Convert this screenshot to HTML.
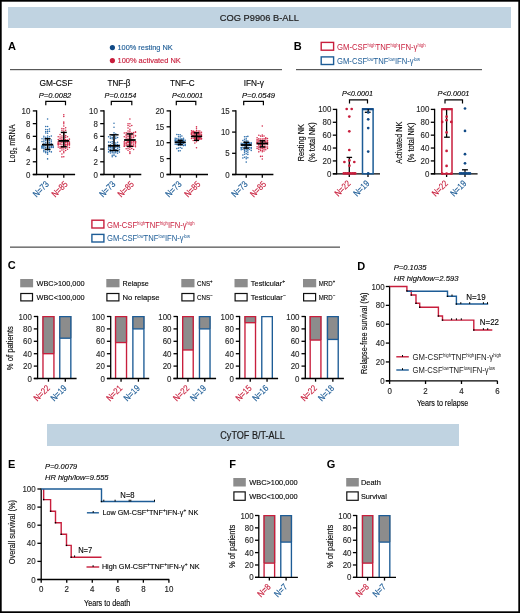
<!DOCTYPE html>
<html><head><meta charset="utf-8"><style>
html,body{margin:0;padding:0;background:#fff;}
svg{display:block;font-family:"Liberation Sans", sans-serif;will-change:transform;}
</style></head><body>
<svg width="520" height="613" viewBox="0 0 520 613">
<rect x="0" y="0" width="520" height="613" fill="#fff" stroke="#000" stroke-width="3.4"/>
<rect x="8" y="7" width="503" height="21" fill="#c0d3e1"/>
<text x="259.3" y="20.9" font-size="9.6" text-anchor="middle" fill="#1e1e1e" textLength="79" lengthAdjust="spacingAndGlyphs" stroke="#1e1e1e" stroke-width="0.2">COG P9906 B-ALL</text>
<rect x="47" y="424" width="412" height="22" fill="#c0d3e1"/>
<text x="252.5" y="438.7" font-size="10" text-anchor="middle" fill="#1e1e1e" textLength="64.4" lengthAdjust="spacingAndGlyphs" stroke="#1e1e1e" stroke-width="0.2">CyTOF B/T-ALL</text>
<rect x="10" y="69" width="272" height="1.2" fill="#585858"/>
<rect x="296" y="69" width="186" height="1.2" fill="#585858"/>
<rect x="10" y="246.5" width="330" height="1.3" fill="#585858"/>
<text x="8" y="49.6" font-size="11" fill="#000" font-weight="bold">A</text>
<text x="293.7" y="50" font-size="11" fill="#000" font-weight="bold">B</text>
<text x="7.7" y="269.4" font-size="11" fill="#000" font-weight="bold">C</text>
<text x="357.3" y="270" font-size="11" fill="#000" font-weight="bold">D</text>
<text x="8.1" y="468" font-size="11" fill="#000" font-weight="bold">E</text>
<text x="229.3" y="468" font-size="11" fill="#000" font-weight="bold">F</text>
<text x="326.8" y="468" font-size="11" fill="#000" font-weight="bold">G</text>
<circle cx="112.4" cy="47.6" r="2.6" fill="#114a86"/>
<text x="117.5" y="50.4" font-size="8" fill="#1d5c96" textLength="55.2" lengthAdjust="spacingAndGlyphs" stroke="#1d5c96" stroke-width="0.14">100% resting NK</text>
<circle cx="112.4" cy="60.6" r="2.6" fill="#c81e3c"/>
<text x="117.5" y="63.4" font-size="8" fill="#c81e3c" textLength="63.3" lengthAdjust="spacingAndGlyphs" stroke="#c81e3c" stroke-width="0.14">100% activated NK</text>
<line x1="36.6" y1="110.3" x2="36.6" y2="175.1" stroke="#000" stroke-width="1.3"/>
<line x1="32.8" y1="174.5" x2="36.6" y2="174.5" stroke="#000" stroke-width="1.3"/>
<text x="30.4" y="177.59" font-size="8.7" text-anchor="end" fill="#2a2a2a" textLength="4.4" lengthAdjust="spacingAndGlyphs" stroke="#2a2a2a" stroke-width="0.14">0</text>
<line x1="32.8" y1="161.78" x2="36.6" y2="161.78" stroke="#000" stroke-width="1.3"/>
<text x="30.4" y="164.87" font-size="8.7" text-anchor="end" fill="#2a2a2a" textLength="4.4" lengthAdjust="spacingAndGlyphs" stroke="#2a2a2a" stroke-width="0.14">2</text>
<line x1="32.8" y1="149.06" x2="36.6" y2="149.06" stroke="#000" stroke-width="1.3"/>
<text x="30.4" y="152.15" font-size="8.7" text-anchor="end" fill="#2a2a2a" textLength="4.4" lengthAdjust="spacingAndGlyphs" stroke="#2a2a2a" stroke-width="0.14">4</text>
<line x1="32.8" y1="136.34" x2="36.6" y2="136.34" stroke="#000" stroke-width="1.3"/>
<text x="30.4" y="139.43" font-size="8.7" text-anchor="end" fill="#2a2a2a" textLength="4.4" lengthAdjust="spacingAndGlyphs" stroke="#2a2a2a" stroke-width="0.14">6</text>
<line x1="32.8" y1="123.62" x2="36.6" y2="123.62" stroke="#000" stroke-width="1.3"/>
<text x="30.4" y="126.71" font-size="8.7" text-anchor="end" fill="#2a2a2a" textLength="4.4" lengthAdjust="spacingAndGlyphs" stroke="#2a2a2a" stroke-width="0.14">8</text>
<line x1="32.8" y1="110.9" x2="36.6" y2="110.9" stroke="#000" stroke-width="1.3"/>
<text x="30.4" y="113.99" font-size="8.7" text-anchor="end" fill="#2a2a2a" textLength="8.8" lengthAdjust="spacingAndGlyphs" stroke="#2a2a2a" stroke-width="0.14">10</text>
<line x1="32.8" y1="174.5" x2="75.1" y2="174.5" stroke="#000" stroke-width="1.3"/>
<line x1="47.6" y1="174.5" x2="47.6" y2="177.7" stroke="#000" stroke-width="1.3"/>
<line x1="63.8" y1="174.5" x2="63.8" y2="177.7" stroke="#000" stroke-width="1.3"/>
<text x="56" y="85.6" font-size="9.2" text-anchor="middle" textLength="33" lengthAdjust="spacingAndGlyphs" stroke="#1a1a1a" stroke-width="0.14">GM-CSF</text>
<text x="55.05" y="97.5" font-size="7.6" text-anchor="middle" textLength="32.5" lengthAdjust="spacingAndGlyphs" font-style="italic" stroke="#1a1a1a" stroke-width="0.14">P=0.0082</text>
<path d="M45.8 105.2 V101.4 H65.5 V105.2" stroke="#000" stroke-width="1.2" fill="none"/>
<circle cx="47.6" cy="144.97" r="0.78" fill="#2f6fab"/>
<circle cx="45.73" cy="144.29" r="0.78" fill="#2f6fab"/>
<circle cx="49.47" cy="144.14" r="0.78" fill="#2f6fab"/>
<circle cx="43.87" cy="145.36" r="0.78" fill="#2f6fab"/>
<circle cx="43.87" cy="143.74" r="0.78" fill="#2f6fab"/>
<circle cx="51.33" cy="143.74" r="0.78" fill="#2f6fab"/>
<circle cx="45.73" cy="145.72" r="0.78" fill="#2f6fab"/>
<circle cx="49.47" cy="146.02" r="0.78" fill="#2f6fab"/>
<circle cx="51.33" cy="146.05" r="0.78" fill="#2f6fab"/>
<circle cx="42" cy="146.07" r="0.78" fill="#2f6fab"/>
<circle cx="53.2" cy="146.07" r="0.78" fill="#2f6fab"/>
<circle cx="47.6" cy="146.38" r="0.78" fill="#2f6fab"/>
<circle cx="42" cy="146.4" r="0.78" fill="#2f6fab"/>
<circle cx="47.6" cy="142.78" r="0.78" fill="#2f6fab"/>
<circle cx="51.33" cy="146.69" r="0.78" fill="#2f6fab"/>
<circle cx="45.73" cy="142.67" r="0.78" fill="#2f6fab"/>
<circle cx="43.87" cy="146.87" r="0.78" fill="#2f6fab"/>
<circle cx="42" cy="146.87" r="0.78" fill="#2f6fab"/>
<circle cx="49.47" cy="142.4" r="0.78" fill="#2f6fab"/>
<circle cx="53.2" cy="147.03" r="0.78" fill="#2f6fab"/>
<circle cx="43.87" cy="147.05" r="0.78" fill="#2f6fab"/>
<circle cx="45.73" cy="147.44" r="0.78" fill="#2f6fab"/>
<circle cx="49.47" cy="147.44" r="0.78" fill="#2f6fab"/>
<circle cx="51.33" cy="147.49" r="0.78" fill="#2f6fab"/>
<circle cx="42" cy="147.51" r="0.78" fill="#2f6fab"/>
<circle cx="43.87" cy="141.86" r="0.78" fill="#2f6fab"/>
<circle cx="53.2" cy="147.57" r="0.78" fill="#2f6fab"/>
<circle cx="51.33" cy="141.81" r="0.78" fill="#2f6fab"/>
<circle cx="47.6" cy="147.76" r="0.78" fill="#2f6fab"/>
<circle cx="42" cy="141.6" r="0.78" fill="#2f6fab"/>
<circle cx="49.47" cy="148.08" r="0.78" fill="#2f6fab"/>
<circle cx="42" cy="148.18" r="0.78" fill="#2f6fab"/>
<circle cx="43.87" cy="148.38" r="0.78" fill="#2f6fab"/>
<circle cx="47.6" cy="140.67" r="0.78" fill="#2f6fab"/>
<circle cx="45.73" cy="140.63" r="0.78" fill="#2f6fab"/>
<circle cx="49.47" cy="140.49" r="0.78" fill="#2f6fab"/>
<circle cx="47.6" cy="149.25" r="0.78" fill="#2f6fab"/>
<circle cx="43.87" cy="140.01" r="0.78" fill="#2f6fab"/>
<circle cx="45.73" cy="149.4" r="0.78" fill="#2f6fab"/>
<circle cx="51.33" cy="139.92" r="0.78" fill="#2f6fab"/>
<circle cx="49.47" cy="149.9" r="0.78" fill="#2f6fab"/>
<circle cx="47.6" cy="139.19" r="0.78" fill="#2f6fab"/>
<circle cx="45.73" cy="139.12" r="0.78" fill="#2f6fab"/>
<circle cx="43.87" cy="150.4" r="0.78" fill="#2f6fab"/>
<circle cx="49.47" cy="138.92" r="0.78" fill="#2f6fab"/>
<circle cx="42" cy="138.75" r="0.78" fill="#2f6fab"/>
<circle cx="47.6" cy="150.82" r="0.78" fill="#2f6fab"/>
<circle cx="45.73" cy="151.28" r="0.78" fill="#2f6fab"/>
<circle cx="43.87" cy="138.04" r="0.78" fill="#2f6fab"/>
<circle cx="49.47" cy="151.42" r="0.78" fill="#2f6fab"/>
<circle cx="43.87" cy="151.79" r="0.78" fill="#2f6fab"/>
<circle cx="51.33" cy="151.88" r="0.78" fill="#2f6fab"/>
<circle cx="47.6" cy="137.43" r="0.78" fill="#2f6fab"/>
<circle cx="45.73" cy="137.34" r="0.78" fill="#2f6fab"/>
<circle cx="47.6" cy="152.62" r="0.78" fill="#2f6fab"/>
<circle cx="45.73" cy="152.64" r="0.78" fill="#2f6fab"/>
<circle cx="49.47" cy="136.69" r="0.78" fill="#2f6fab"/>
<circle cx="43.87" cy="136.33" r="0.78" fill="#2f6fab"/>
<circle cx="51.33" cy="136.09" r="0.78" fill="#2f6fab"/>
<circle cx="47.6" cy="135.99" r="0.78" fill="#2f6fab"/>
<circle cx="47.6" cy="154.15" r="0.78" fill="#2f6fab"/>
<circle cx="47.6" cy="133.32" r="0.78" fill="#2f6fab"/>
<circle cx="45.73" cy="133.01" r="0.78" fill="#2f6fab"/>
<circle cx="47.6" cy="131.58" r="0.78" fill="#2f6fab"/>
<circle cx="45.73" cy="131.52" r="0.78" fill="#2f6fab"/>
<circle cx="49.47" cy="131.29" r="0.78" fill="#2f6fab"/>
<circle cx="47.6" cy="158.9" r="0.78" fill="#2f6fab"/>
<circle cx="47.6" cy="129.71" r="0.78" fill="#2f6fab"/>
<circle cx="45.73" cy="129.48" r="0.78" fill="#2f6fab"/>
<circle cx="49.47" cy="129.01" r="0.78" fill="#2f6fab"/>
<circle cx="47.6" cy="126.57" r="0.78" fill="#2f6fab"/>
<circle cx="45.73" cy="126.41" r="0.78" fill="#2f6fab"/>
<circle cx="47.6" cy="119" r="0.78" fill="#2f6fab"/>
<line x1="47.6" y1="138.7" x2="47.6" y2="149.4" stroke="#000" stroke-width="1.4"/>
<line x1="44.7" y1="138.7" x2="50.5" y2="138.7" stroke="#000" stroke-width="1.4"/>
<line x1="44.7" y1="149.4" x2="50.5" y2="149.4" stroke="#000" stroke-width="1.4"/>
<line x1="42" y1="144.7" x2="53.2" y2="144.7" stroke="#000" stroke-width="1.8"/>
<circle cx="63.8" cy="140.91" r="0.78" fill="#d42c4c"/>
<circle cx="61.93" cy="140.78" r="0.78" fill="#d42c4c"/>
<circle cx="65.67" cy="141.07" r="0.78" fill="#d42c4c"/>
<circle cx="60.07" cy="140.3" r="0.78" fill="#d42c4c"/>
<circle cx="60.07" cy="141.68" r="0.78" fill="#d42c4c"/>
<circle cx="67.53" cy="141.83" r="0.78" fill="#d42c4c"/>
<circle cx="67.53" cy="139.96" r="0.78" fill="#d42c4c"/>
<circle cx="58.2" cy="141.89" r="0.78" fill="#d42c4c"/>
<circle cx="69.4" cy="141.92" r="0.78" fill="#d42c4c"/>
<circle cx="65.67" cy="139.62" r="0.78" fill="#d42c4c"/>
<circle cx="63.8" cy="139.48" r="0.78" fill="#d42c4c"/>
<circle cx="58.2" cy="139.47" r="0.78" fill="#d42c4c"/>
<circle cx="63.8" cy="142.45" r="0.78" fill="#d42c4c"/>
<circle cx="61.93" cy="142.49" r="0.78" fill="#d42c4c"/>
<circle cx="65.67" cy="142.5" r="0.78" fill="#d42c4c"/>
<circle cx="61.93" cy="139.23" r="0.78" fill="#d42c4c"/>
<circle cx="69.4" cy="139.15" r="0.78" fill="#d42c4c"/>
<circle cx="67.53" cy="142.7" r="0.78" fill="#d42c4c"/>
<circle cx="65.67" cy="142.73" r="0.78" fill="#d42c4c"/>
<circle cx="58.2" cy="143.01" r="0.78" fill="#d42c4c"/>
<circle cx="69.4" cy="143.01" r="0.78" fill="#d42c4c"/>
<circle cx="60.07" cy="138.76" r="0.78" fill="#d42c4c"/>
<circle cx="60.07" cy="143.14" r="0.78" fill="#d42c4c"/>
<circle cx="67.53" cy="143.21" r="0.78" fill="#d42c4c"/>
<circle cx="58.2" cy="143.41" r="0.78" fill="#d42c4c"/>
<circle cx="69.4" cy="143.49" r="0.78" fill="#d42c4c"/>
<circle cx="63.8" cy="143.72" r="0.78" fill="#d42c4c"/>
<circle cx="63.8" cy="138.07" r="0.78" fill="#d42c4c"/>
<circle cx="61.93" cy="137.7" r="0.78" fill="#d42c4c"/>
<circle cx="63.8" cy="144.27" r="0.78" fill="#d42c4c"/>
<circle cx="61.93" cy="144.34" r="0.78" fill="#d42c4c"/>
<circle cx="65.67" cy="137.36" r="0.78" fill="#d42c4c"/>
<circle cx="65.67" cy="144.46" r="0.78" fill="#d42c4c"/>
<circle cx="58.2" cy="144.49" r="0.78" fill="#d42c4c"/>
<circle cx="60.07" cy="144.58" r="0.78" fill="#d42c4c"/>
<circle cx="67.53" cy="144.62" r="0.78" fill="#d42c4c"/>
<circle cx="69.4" cy="144.64" r="0.78" fill="#d42c4c"/>
<circle cx="65.67" cy="144.66" r="0.78" fill="#d42c4c"/>
<circle cx="60.07" cy="136.96" r="0.78" fill="#d42c4c"/>
<circle cx="58.2" cy="144.92" r="0.78" fill="#d42c4c"/>
<circle cx="67.53" cy="136.84" r="0.78" fill="#d42c4c"/>
<circle cx="58.2" cy="136.8" r="0.78" fill="#d42c4c"/>
<circle cx="69.4" cy="145" r="0.78" fill="#d42c4c"/>
<circle cx="67.53" cy="145.12" r="0.78" fill="#d42c4c"/>
<circle cx="63.8" cy="136.67" r="0.78" fill="#d42c4c"/>
<circle cx="65.67" cy="145.16" r="0.78" fill="#d42c4c"/>
<circle cx="61.93" cy="135.94" r="0.78" fill="#d42c4c"/>
<circle cx="63.8" cy="145.87" r="0.78" fill="#d42c4c"/>
<circle cx="65.67" cy="135.63" r="0.78" fill="#d42c4c"/>
<circle cx="61.93" cy="146.37" r="0.78" fill="#d42c4c"/>
<circle cx="65.67" cy="146.48" r="0.78" fill="#d42c4c"/>
<circle cx="60.07" cy="146.9" r="0.78" fill="#d42c4c"/>
<circle cx="63.8" cy="134.88" r="0.78" fill="#d42c4c"/>
<circle cx="67.53" cy="147.05" r="0.78" fill="#d42c4c"/>
<circle cx="58.2" cy="147.11" r="0.78" fill="#d42c4c"/>
<circle cx="60.07" cy="134.62" r="0.78" fill="#d42c4c"/>
<circle cx="63.8" cy="147.25" r="0.78" fill="#d42c4c"/>
<circle cx="69.4" cy="147.53" r="0.78" fill="#d42c4c"/>
<circle cx="61.93" cy="147.67" r="0.78" fill="#d42c4c"/>
<circle cx="61.93" cy="148.06" r="0.78" fill="#d42c4c"/>
<circle cx="65.67" cy="148.24" r="0.78" fill="#d42c4c"/>
<circle cx="60.07" cy="148.35" r="0.78" fill="#d42c4c"/>
<circle cx="63.8" cy="133.42" r="0.78" fill="#d42c4c"/>
<circle cx="63.8" cy="149.09" r="0.78" fill="#d42c4c"/>
<circle cx="67.53" cy="149.23" r="0.78" fill="#d42c4c"/>
<circle cx="61.93" cy="132.54" r="0.78" fill="#d42c4c"/>
<circle cx="61.93" cy="150.03" r="0.78" fill="#d42c4c"/>
<circle cx="65.67" cy="150.43" r="0.78" fill="#d42c4c"/>
<circle cx="63.8" cy="131.14" r="0.78" fill="#d42c4c"/>
<circle cx="63.8" cy="151.26" r="0.78" fill="#d42c4c"/>
<circle cx="60.07" cy="151.37" r="0.78" fill="#d42c4c"/>
<circle cx="61.93" cy="130.26" r="0.78" fill="#d42c4c"/>
<circle cx="65.67" cy="130.22" r="0.78" fill="#d42c4c"/>
<circle cx="63.8" cy="152.84" r="0.78" fill="#d42c4c"/>
<circle cx="63.8" cy="128.85" r="0.78" fill="#d42c4c"/>
<circle cx="61.93" cy="128.44" r="0.78" fill="#d42c4c"/>
<circle cx="61.93" cy="153.97" r="0.78" fill="#d42c4c"/>
<circle cx="65.67" cy="127.79" r="0.78" fill="#d42c4c"/>
<circle cx="63.8" cy="126" r="0.78" fill="#d42c4c"/>
<circle cx="63.8" cy="156.7" r="0.78" fill="#d42c4c"/>
<circle cx="61.93" cy="156.9" r="0.78" fill="#d42c4c"/>
<circle cx="63.8" cy="123.69" r="0.78" fill="#d42c4c"/>
<circle cx="63.8" cy="122.15" r="0.78" fill="#d42c4c"/>
<circle cx="63.8" cy="116.54" r="0.78" fill="#d42c4c"/>
<circle cx="63.8" cy="114.7" r="0.78" fill="#d42c4c"/>
<line x1="63.8" y1="132.4" x2="63.8" y2="146.8" stroke="#000" stroke-width="1.4"/>
<line x1="60.8" y1="132.4" x2="66.8" y2="132.4" stroke="#000" stroke-width="1.4"/>
<line x1="60.8" y1="146.8" x2="66.8" y2="146.8" stroke="#000" stroke-width="1.4"/>
<line x1="58.4" y1="140.9" x2="69.2" y2="140.9" stroke="#000" stroke-width="1.8"/>
<text transform="translate(49.6 184.7) rotate(-45)" font-size="9" text-anchor="end" fill="#1d5c96" textLength="18.5" lengthAdjust="spacingAndGlyphs" stroke="#1d5c96" stroke-width="0.15">N=73</text>
<text transform="translate(68.3 184.7) rotate(-45)" font-size="9" text-anchor="end" fill="#c81e3c" textLength="18.5" lengthAdjust="spacingAndGlyphs" stroke="#c81e3c" stroke-width="0.15">N=85</text>
<line x1="104" y1="110.3" x2="104" y2="175.1" stroke="#000" stroke-width="1.3"/>
<line x1="100.2" y1="174.5" x2="104" y2="174.5" stroke="#000" stroke-width="1.3"/>
<text x="97.8" y="177.59" font-size="8.7" text-anchor="end" fill="#2a2a2a" textLength="4.4" lengthAdjust="spacingAndGlyphs" stroke="#2a2a2a" stroke-width="0.14">0</text>
<line x1="100.2" y1="161.78" x2="104" y2="161.78" stroke="#000" stroke-width="1.3"/>
<text x="97.8" y="164.87" font-size="8.7" text-anchor="end" fill="#2a2a2a" textLength="4.4" lengthAdjust="spacingAndGlyphs" stroke="#2a2a2a" stroke-width="0.14">2</text>
<line x1="100.2" y1="149.06" x2="104" y2="149.06" stroke="#000" stroke-width="1.3"/>
<text x="97.8" y="152.15" font-size="8.7" text-anchor="end" fill="#2a2a2a" textLength="4.4" lengthAdjust="spacingAndGlyphs" stroke="#2a2a2a" stroke-width="0.14">4</text>
<line x1="100.2" y1="136.34" x2="104" y2="136.34" stroke="#000" stroke-width="1.3"/>
<text x="97.8" y="139.43" font-size="8.7" text-anchor="end" fill="#2a2a2a" textLength="4.4" lengthAdjust="spacingAndGlyphs" stroke="#2a2a2a" stroke-width="0.14">6</text>
<line x1="100.2" y1="123.62" x2="104" y2="123.62" stroke="#000" stroke-width="1.3"/>
<text x="97.8" y="126.71" font-size="8.7" text-anchor="end" fill="#2a2a2a" textLength="4.4" lengthAdjust="spacingAndGlyphs" stroke="#2a2a2a" stroke-width="0.14">8</text>
<line x1="100.2" y1="110.9" x2="104" y2="110.9" stroke="#000" stroke-width="1.3"/>
<text x="97.8" y="113.99" font-size="8.7" text-anchor="end" fill="#2a2a2a" textLength="8.8" lengthAdjust="spacingAndGlyphs" stroke="#2a2a2a" stroke-width="0.14">10</text>
<line x1="100.2" y1="174.5" x2="141.3" y2="174.5" stroke="#000" stroke-width="1.3"/>
<line x1="114" y1="174.5" x2="114" y2="177.7" stroke="#000" stroke-width="1.3"/>
<line x1="129.9" y1="174.5" x2="129.9" y2="177.7" stroke="#000" stroke-width="1.3"/>
<text x="119" y="85.6" font-size="9.2" text-anchor="middle" textLength="23" lengthAdjust="spacingAndGlyphs" stroke="#1a1a1a" stroke-width="0.14">TNF-β</text>
<text x="120.4" y="97.5" font-size="7.6" text-anchor="middle" textLength="31.8" lengthAdjust="spacingAndGlyphs" font-style="italic" stroke="#1a1a1a" stroke-width="0.14">P=0.0154</text>
<path d="M111.3 105.2 V101.4 H131.8 V105.2" stroke="#000" stroke-width="1.2" fill="none"/>
<circle cx="114" cy="145.79" r="0.78" fill="#2f6fab"/>
<circle cx="112.2" cy="145.66" r="0.78" fill="#2f6fab"/>
<circle cx="115.8" cy="145.94" r="0.78" fill="#2f6fab"/>
<circle cx="110.4" cy="146.22" r="0.78" fill="#2f6fab"/>
<circle cx="117.6" cy="145.36" r="0.78" fill="#2f6fab"/>
<circle cx="108.6" cy="145.28" r="0.78" fill="#2f6fab"/>
<circle cx="119.4" cy="145.25" r="0.78" fill="#2f6fab"/>
<circle cx="117.6" cy="146.72" r="0.78" fill="#2f6fab"/>
<circle cx="110.4" cy="144.78" r="0.78" fill="#2f6fab"/>
<circle cx="115.8" cy="144.55" r="0.78" fill="#2f6fab"/>
<circle cx="112.2" cy="147.07" r="0.78" fill="#2f6fab"/>
<circle cx="108.6" cy="147.12" r="0.78" fill="#2f6fab"/>
<circle cx="117.6" cy="144.44" r="0.78" fill="#2f6fab"/>
<circle cx="114" cy="147.17" r="0.78" fill="#2f6fab"/>
<circle cx="119.4" cy="147.21" r="0.78" fill="#2f6fab"/>
<circle cx="115.8" cy="147.3" r="0.78" fill="#2f6fab"/>
<circle cx="110.4" cy="147.35" r="0.78" fill="#2f6fab"/>
<circle cx="114" cy="144.23" r="0.78" fill="#2f6fab"/>
<circle cx="119.4" cy="147.53" r="0.78" fill="#2f6fab"/>
<circle cx="110.4" cy="147.78" r="0.78" fill="#2f6fab"/>
<circle cx="112.2" cy="147.88" r="0.78" fill="#2f6fab"/>
<circle cx="114" cy="148.01" r="0.78" fill="#2f6fab"/>
<circle cx="108.6" cy="148.03" r="0.78" fill="#2f6fab"/>
<circle cx="112.2" cy="143.36" r="0.78" fill="#2f6fab"/>
<circle cx="117.6" cy="148.4" r="0.78" fill="#2f6fab"/>
<circle cx="115.8" cy="142.92" r="0.78" fill="#2f6fab"/>
<circle cx="114" cy="148.88" r="0.78" fill="#2f6fab"/>
<circle cx="112.2" cy="148.95" r="0.78" fill="#2f6fab"/>
<circle cx="114" cy="142.43" r="0.78" fill="#2f6fab"/>
<circle cx="110.4" cy="142.32" r="0.78" fill="#2f6fab"/>
<circle cx="117.6" cy="142.3" r="0.78" fill="#2f6fab"/>
<circle cx="115.8" cy="149.41" r="0.78" fill="#2f6fab"/>
<circle cx="110.4" cy="149.41" r="0.78" fill="#2f6fab"/>
<circle cx="108.6" cy="142.12" r="0.78" fill="#2f6fab"/>
<circle cx="108.6" cy="149.51" r="0.78" fill="#2f6fab"/>
<circle cx="119.4" cy="149.63" r="0.78" fill="#2f6fab"/>
<circle cx="115.8" cy="149.66" r="0.78" fill="#2f6fab"/>
<circle cx="112.2" cy="141.42" r="0.78" fill="#2f6fab"/>
<circle cx="114" cy="140.99" r="0.78" fill="#2f6fab"/>
<circle cx="114" cy="150.76" r="0.78" fill="#2f6fab"/>
<circle cx="112.2" cy="151.18" r="0.78" fill="#2f6fab"/>
<circle cx="115.8" cy="151.39" r="0.78" fill="#2f6fab"/>
<circle cx="110.4" cy="151.56" r="0.78" fill="#2f6fab"/>
<circle cx="117.6" cy="151.6" r="0.78" fill="#2f6fab"/>
<circle cx="108.6" cy="151.89" r="0.78" fill="#2f6fab"/>
<circle cx="119.4" cy="152.11" r="0.78" fill="#2f6fab"/>
<circle cx="114" cy="139.4" r="0.78" fill="#2f6fab"/>
<circle cx="114" cy="152.36" r="0.78" fill="#2f6fab"/>
<circle cx="112.2" cy="152.69" r="0.78" fill="#2f6fab"/>
<circle cx="112.2" cy="138.85" r="0.78" fill="#2f6fab"/>
<circle cx="115.8" cy="152.83" r="0.78" fill="#2f6fab"/>
<circle cx="115.8" cy="138.58" r="0.78" fill="#2f6fab"/>
<circle cx="110.4" cy="153.04" r="0.78" fill="#2f6fab"/>
<circle cx="110.4" cy="138.49" r="0.78" fill="#2f6fab"/>
<circle cx="117.6" cy="153.32" r="0.78" fill="#2f6fab"/>
<circle cx="114" cy="137.68" r="0.78" fill="#2f6fab"/>
<circle cx="117.6" cy="137.57" r="0.78" fill="#2f6fab"/>
<circle cx="114" cy="154.1" r="0.78" fill="#2f6fab"/>
<circle cx="112.2" cy="137.46" r="0.78" fill="#2f6fab"/>
<circle cx="115.8" cy="137.04" r="0.78" fill="#2f6fab"/>
<circle cx="110.4" cy="137.02" r="0.78" fill="#2f6fab"/>
<circle cx="108.6" cy="136.66" r="0.78" fill="#2f6fab"/>
<circle cx="112.2" cy="155.2" r="0.78" fill="#2f6fab"/>
<circle cx="114" cy="136.16" r="0.78" fill="#2f6fab"/>
<circle cx="114" cy="155.57" r="0.78" fill="#2f6fab"/>
<circle cx="112.2" cy="135.39" r="0.78" fill="#2f6fab"/>
<circle cx="115.8" cy="156.4" r="0.78" fill="#2f6fab"/>
<circle cx="112.2" cy="156.75" r="0.78" fill="#2f6fab"/>
<circle cx="114" cy="134.39" r="0.78" fill="#2f6fab"/>
<circle cx="115.8" cy="134.09" r="0.78" fill="#2f6fab"/>
<circle cx="114" cy="132.71" r="0.78" fill="#2f6fab"/>
<circle cx="114" cy="127.21" r="0.78" fill="#2f6fab"/>
<circle cx="114" cy="123.2" r="0.78" fill="#2f6fab"/>
<line x1="114" y1="134.8" x2="114" y2="150.5" stroke="#000" stroke-width="1.4"/>
<line x1="109.4" y1="134.8" x2="118.6" y2="134.8" stroke="#000" stroke-width="1.4"/>
<line x1="109.4" y1="150.5" x2="118.6" y2="150.5" stroke="#000" stroke-width="1.4"/>
<line x1="108.2" y1="145.8" x2="119.8" y2="145.8" stroke="#000" stroke-width="1.8"/>
<circle cx="129.9" cy="139.93" r="0.78" fill="#d42c4c"/>
<circle cx="128.03" cy="139.71" r="0.78" fill="#d42c4c"/>
<circle cx="131.77" cy="140.65" r="0.78" fill="#d42c4c"/>
<circle cx="126.17" cy="140.74" r="0.78" fill="#d42c4c"/>
<circle cx="131.77" cy="139.26" r="0.78" fill="#d42c4c"/>
<circle cx="126.17" cy="138.92" r="0.78" fill="#d42c4c"/>
<circle cx="129.9" cy="141.33" r="0.78" fill="#d42c4c"/>
<circle cx="128.03" cy="141.38" r="0.78" fill="#d42c4c"/>
<circle cx="133.63" cy="141.59" r="0.78" fill="#d42c4c"/>
<circle cx="124.3" cy="141.71" r="0.78" fill="#d42c4c"/>
<circle cx="135.5" cy="141.76" r="0.78" fill="#d42c4c"/>
<circle cx="135.5" cy="141.78" r="0.78" fill="#d42c4c"/>
<circle cx="128.03" cy="141.82" r="0.78" fill="#d42c4c"/>
<circle cx="129.9" cy="138.18" r="0.78" fill="#d42c4c"/>
<circle cx="128.03" cy="138.17" r="0.78" fill="#d42c4c"/>
<circle cx="131.77" cy="141.92" r="0.78" fill="#d42c4c"/>
<circle cx="135.5" cy="141.92" r="0.78" fill="#d42c4c"/>
<circle cx="131.77" cy="137.82" r="0.78" fill="#d42c4c"/>
<circle cx="131.77" cy="142.35" r="0.78" fill="#d42c4c"/>
<circle cx="133.63" cy="137.62" r="0.78" fill="#d42c4c"/>
<circle cx="126.17" cy="142.41" r="0.78" fill="#d42c4c"/>
<circle cx="128.03" cy="142.41" r="0.78" fill="#d42c4c"/>
<circle cx="135.5" cy="142.58" r="0.78" fill="#d42c4c"/>
<circle cx="129.9" cy="142.74" r="0.78" fill="#d42c4c"/>
<circle cx="128.03" cy="142.8" r="0.78" fill="#d42c4c"/>
<circle cx="126.17" cy="137.19" r="0.78" fill="#d42c4c"/>
<circle cx="133.63" cy="142.94" r="0.78" fill="#d42c4c"/>
<circle cx="124.3" cy="143.13" r="0.78" fill="#d42c4c"/>
<circle cx="124.3" cy="136.84" r="0.78" fill="#d42c4c"/>
<circle cx="135.5" cy="143.36" r="0.78" fill="#d42c4c"/>
<circle cx="129.9" cy="136.64" r="0.78" fill="#d42c4c"/>
<circle cx="128.03" cy="136.44" r="0.78" fill="#d42c4c"/>
<circle cx="126.17" cy="143.68" r="0.78" fill="#d42c4c"/>
<circle cx="131.77" cy="143.82" r="0.78" fill="#d42c4c"/>
<circle cx="126.17" cy="143.99" r="0.78" fill="#d42c4c"/>
<circle cx="131.77" cy="135.98" r="0.78" fill="#d42c4c"/>
<circle cx="133.63" cy="135.94" r="0.78" fill="#d42c4c"/>
<circle cx="135.5" cy="135.92" r="0.78" fill="#d42c4c"/>
<circle cx="129.9" cy="144.16" r="0.78" fill="#d42c4c"/>
<circle cx="126.17" cy="135.74" r="0.78" fill="#d42c4c"/>
<circle cx="128.03" cy="144.43" r="0.78" fill="#d42c4c"/>
<circle cx="135.5" cy="135.5" r="0.78" fill="#d42c4c"/>
<circle cx="133.63" cy="144.74" r="0.78" fill="#d42c4c"/>
<circle cx="124.3" cy="144.82" r="0.78" fill="#d42c4c"/>
<circle cx="129.9" cy="135.16" r="0.78" fill="#d42c4c"/>
<circle cx="128.03" cy="135.05" r="0.78" fill="#d42c4c"/>
<circle cx="135.5" cy="145.11" r="0.78" fill="#d42c4c"/>
<circle cx="131.77" cy="145.36" r="0.78" fill="#d42c4c"/>
<circle cx="131.77" cy="134.56" r="0.78" fill="#d42c4c"/>
<circle cx="129.9" cy="145.61" r="0.78" fill="#d42c4c"/>
<circle cx="126.17" cy="145.73" r="0.78" fill="#d42c4c"/>
<circle cx="126.17" cy="134.26" r="0.78" fill="#d42c4c"/>
<circle cx="128.03" cy="145.78" r="0.78" fill="#d42c4c"/>
<circle cx="124.3" cy="145.97" r="0.78" fill="#d42c4c"/>
<circle cx="133.63" cy="133.97" r="0.78" fill="#d42c4c"/>
<circle cx="133.63" cy="146.13" r="0.78" fill="#d42c4c"/>
<circle cx="124.3" cy="146.28" r="0.78" fill="#d42c4c"/>
<circle cx="135.5" cy="146.69" r="0.78" fill="#d42c4c"/>
<circle cx="129.9" cy="133.12" r="0.78" fill="#d42c4c"/>
<circle cx="128.03" cy="133.06" r="0.78" fill="#d42c4c"/>
<circle cx="131.77" cy="132.93" r="0.78" fill="#d42c4c"/>
<circle cx="124.3" cy="132.92" r="0.78" fill="#d42c4c"/>
<circle cx="126.17" cy="132.78" r="0.78" fill="#d42c4c"/>
<circle cx="133.63" cy="132.56" r="0.78" fill="#d42c4c"/>
<circle cx="129.9" cy="147.55" r="0.78" fill="#d42c4c"/>
<circle cx="135.5" cy="132.14" r="0.78" fill="#d42c4c"/>
<circle cx="135.5" cy="132.07" r="0.78" fill="#d42c4c"/>
<circle cx="128.03" cy="148.26" r="0.78" fill="#d42c4c"/>
<circle cx="131.77" cy="148.43" r="0.78" fill="#d42c4c"/>
<circle cx="126.17" cy="148.72" r="0.78" fill="#d42c4c"/>
<circle cx="129.9" cy="131.15" r="0.78" fill="#d42c4c"/>
<circle cx="128.03" cy="131.04" r="0.78" fill="#d42c4c"/>
<circle cx="129.9" cy="149.34" r="0.78" fill="#d42c4c"/>
<circle cx="133.63" cy="149.42" r="0.78" fill="#d42c4c"/>
<circle cx="128.03" cy="150.21" r="0.78" fill="#d42c4c"/>
<circle cx="129.9" cy="129.19" r="0.78" fill="#d42c4c"/>
<circle cx="129.9" cy="151.9" r="0.78" fill="#d42c4c"/>
<circle cx="128.03" cy="127.95" r="0.78" fill="#d42c4c"/>
<circle cx="129.9" cy="153.4" r="0.78" fill="#d42c4c"/>
<circle cx="129.9" cy="126.24" r="0.78" fill="#d42c4c"/>
<circle cx="128.03" cy="125.5" r="0.78" fill="#d42c4c"/>
<circle cx="131.77" cy="125.48" r="0.78" fill="#d42c4c"/>
<circle cx="129.9" cy="123.83" r="0.78" fill="#d42c4c"/>
<circle cx="128.03" cy="123.79" r="0.78" fill="#d42c4c"/>
<circle cx="129.9" cy="119" r="0.78" fill="#d42c4c"/>
<line x1="129.9" y1="133.9" x2="129.9" y2="146.4" stroke="#000" stroke-width="1.4"/>
<line x1="126.7" y1="133.9" x2="133.1" y2="133.9" stroke="#000" stroke-width="1.4"/>
<line x1="126.7" y1="146.4" x2="133.1" y2="146.4" stroke="#000" stroke-width="1.4"/>
<line x1="124.1" y1="140" x2="135.7" y2="140" stroke="#000" stroke-width="1.8"/>
<text transform="translate(116 184.7) rotate(-45)" font-size="9" text-anchor="end" fill="#1d5c96" textLength="18.5" lengthAdjust="spacingAndGlyphs" stroke="#1d5c96" stroke-width="0.15">N=73</text>
<text transform="translate(134.4 184.7) rotate(-45)" font-size="9" text-anchor="end" fill="#c81e3c" textLength="18.5" lengthAdjust="spacingAndGlyphs" stroke="#c81e3c" stroke-width="0.15">N=85</text>
<line x1="170.4" y1="110.3" x2="170.4" y2="175.1" stroke="#000" stroke-width="1.3"/>
<line x1="166.6" y1="174.5" x2="170.4" y2="174.5" stroke="#000" stroke-width="1.3"/>
<text x="164.2" y="177.59" font-size="8.7" text-anchor="end" fill="#2a2a2a" textLength="4.4" lengthAdjust="spacingAndGlyphs" stroke="#2a2a2a" stroke-width="0.14">0</text>
<line x1="166.6" y1="158.6" x2="170.4" y2="158.6" stroke="#000" stroke-width="1.3"/>
<text x="164.2" y="161.69" font-size="8.7" text-anchor="end" fill="#2a2a2a" textLength="4.4" lengthAdjust="spacingAndGlyphs" stroke="#2a2a2a" stroke-width="0.14">5</text>
<line x1="166.6" y1="142.7" x2="170.4" y2="142.7" stroke="#000" stroke-width="1.3"/>
<text x="164.2" y="145.79" font-size="8.7" text-anchor="end" fill="#2a2a2a" textLength="8.8" lengthAdjust="spacingAndGlyphs" stroke="#2a2a2a" stroke-width="0.14">10</text>
<line x1="166.6" y1="126.8" x2="170.4" y2="126.8" stroke="#000" stroke-width="1.3"/>
<text x="164.2" y="129.89" font-size="8.7" text-anchor="end" fill="#2a2a2a" textLength="8.8" lengthAdjust="spacingAndGlyphs" stroke="#2a2a2a" stroke-width="0.14">15</text>
<line x1="166.6" y1="110.9" x2="170.4" y2="110.9" stroke="#000" stroke-width="1.3"/>
<text x="164.2" y="113.99" font-size="8.7" text-anchor="end" fill="#2a2a2a" textLength="8.8" lengthAdjust="spacingAndGlyphs" stroke="#2a2a2a" stroke-width="0.14">20</text>
<line x1="166.6" y1="174.5" x2="208" y2="174.5" stroke="#000" stroke-width="1.3"/>
<line x1="180.2" y1="174.5" x2="180.2" y2="177.7" stroke="#000" stroke-width="1.3"/>
<line x1="196.5" y1="174.5" x2="196.5" y2="177.7" stroke="#000" stroke-width="1.3"/>
<text x="182.3" y="85.6" font-size="9.2" text-anchor="middle" textLength="24.5" lengthAdjust="spacingAndGlyphs" stroke="#1a1a1a" stroke-width="0.14">TNF-C</text>
<text x="187.5" y="97.5" font-size="7.6" text-anchor="middle" textLength="31" lengthAdjust="spacingAndGlyphs" font-style="italic" stroke="#1a1a1a" stroke-width="0.14">P&lt;0.0001</text>
<path d="M176.3 105.2 V101.4 H195.8 V105.2" stroke="#000" stroke-width="1.2" fill="none"/>
<circle cx="180.2" cy="142.24" r="0.78" fill="#2f6fab"/>
<circle cx="178.53" cy="142.39" r="0.78" fill="#2f6fab"/>
<circle cx="181.87" cy="142.17" r="0.78" fill="#2f6fab"/>
<circle cx="176.87" cy="142.43" r="0.78" fill="#2f6fab"/>
<circle cx="183.53" cy="142.11" r="0.78" fill="#2f6fab"/>
<circle cx="175.2" cy="142.1" r="0.78" fill="#2f6fab"/>
<circle cx="185.2" cy="142.56" r="0.78" fill="#2f6fab"/>
<circle cx="180.2" cy="142.03" r="0.78" fill="#2f6fab"/>
<circle cx="176.87" cy="142.02" r="0.78" fill="#2f6fab"/>
<circle cx="178.53" cy="141.89" r="0.78" fill="#2f6fab"/>
<circle cx="178.53" cy="141.88" r="0.78" fill="#2f6fab"/>
<circle cx="181.87" cy="142.73" r="0.78" fill="#2f6fab"/>
<circle cx="176.87" cy="141.85" r="0.78" fill="#2f6fab"/>
<circle cx="180.2" cy="142.77" r="0.78" fill="#2f6fab"/>
<circle cx="181.87" cy="141.77" r="0.78" fill="#2f6fab"/>
<circle cx="181.87" cy="142.85" r="0.78" fill="#2f6fab"/>
<circle cx="181.87" cy="142.86" r="0.78" fill="#2f6fab"/>
<circle cx="183.53" cy="141.72" r="0.78" fill="#2f6fab"/>
<circle cx="181.87" cy="141.7" r="0.78" fill="#2f6fab"/>
<circle cx="178.53" cy="143" r="0.78" fill="#2f6fab"/>
<circle cx="180.2" cy="141.53" r="0.78" fill="#2f6fab"/>
<circle cx="181.87" cy="141.44" r="0.78" fill="#2f6fab"/>
<circle cx="178.53" cy="143.19" r="0.78" fill="#2f6fab"/>
<circle cx="181.87" cy="141.39" r="0.78" fill="#2f6fab"/>
<circle cx="178.53" cy="141.35" r="0.78" fill="#2f6fab"/>
<circle cx="180.2" cy="141.26" r="0.78" fill="#2f6fab"/>
<circle cx="183.53" cy="143.5" r="0.78" fill="#2f6fab"/>
<circle cx="181.87" cy="143.53" r="0.78" fill="#2f6fab"/>
<circle cx="176.87" cy="141.05" r="0.78" fill="#2f6fab"/>
<circle cx="178.53" cy="140.91" r="0.78" fill="#2f6fab"/>
<circle cx="180.2" cy="143.74" r="0.78" fill="#2f6fab"/>
<circle cx="178.53" cy="143.82" r="0.78" fill="#2f6fab"/>
<circle cx="180.2" cy="140.78" r="0.78" fill="#2f6fab"/>
<circle cx="181.87" cy="140.76" r="0.78" fill="#2f6fab"/>
<circle cx="183.53" cy="140.64" r="0.78" fill="#2f6fab"/>
<circle cx="175.2" cy="140.63" r="0.78" fill="#2f6fab"/>
<circle cx="185.2" cy="140.34" r="0.78" fill="#2f6fab"/>
<circle cx="176.87" cy="144.27" r="0.78" fill="#2f6fab"/>
<circle cx="175.2" cy="144.28" r="0.78" fill="#2f6fab"/>
<circle cx="181.87" cy="140.21" r="0.78" fill="#2f6fab"/>
<circle cx="185.2" cy="144.42" r="0.78" fill="#2f6fab"/>
<circle cx="176.87" cy="144.59" r="0.78" fill="#2f6fab"/>
<circle cx="180.2" cy="139.94" r="0.78" fill="#2f6fab"/>
<circle cx="176.87" cy="139.92" r="0.78" fill="#2f6fab"/>
<circle cx="181.87" cy="139.9" r="0.78" fill="#2f6fab"/>
<circle cx="183.53" cy="139.81" r="0.78" fill="#2f6fab"/>
<circle cx="175.2" cy="139.81" r="0.78" fill="#2f6fab"/>
<circle cx="178.53" cy="139.8" r="0.78" fill="#2f6fab"/>
<circle cx="178.53" cy="144.83" r="0.78" fill="#2f6fab"/>
<circle cx="181.87" cy="144.89" r="0.78" fill="#2f6fab"/>
<circle cx="180.2" cy="145.19" r="0.78" fill="#2f6fab"/>
<circle cx="178.53" cy="145.22" r="0.78" fill="#2f6fab"/>
<circle cx="183.53" cy="145.43" r="0.78" fill="#2f6fab"/>
<circle cx="183.53" cy="145.5" r="0.78" fill="#2f6fab"/>
<circle cx="180.2" cy="139.02" r="0.78" fill="#2f6fab"/>
<circle cx="185.2" cy="145.59" r="0.78" fill="#2f6fab"/>
<circle cx="178.53" cy="138.99" r="0.78" fill="#2f6fab"/>
<circle cx="181.87" cy="138.8" r="0.78" fill="#2f6fab"/>
<circle cx="176.87" cy="138.42" r="0.78" fill="#2f6fab"/>
<circle cx="183.53" cy="138.24" r="0.78" fill="#2f6fab"/>
<circle cx="175.2" cy="138.21" r="0.78" fill="#2f6fab"/>
<circle cx="180.2" cy="147.59" r="0.78" fill="#2f6fab"/>
<circle cx="180.2" cy="136.89" r="0.78" fill="#2f6fab"/>
<circle cx="178.53" cy="136.67" r="0.78" fill="#2f6fab"/>
<circle cx="178.53" cy="148.12" r="0.78" fill="#2f6fab"/>
<circle cx="181.87" cy="148.18" r="0.78" fill="#2f6fab"/>
<circle cx="176.87" cy="148.62" r="0.78" fill="#2f6fab"/>
<circle cx="181.87" cy="135.91" r="0.78" fill="#2f6fab"/>
<circle cx="180.2" cy="134.86" r="0.78" fill="#2f6fab"/>
<circle cx="178.53" cy="134.8" r="0.78" fill="#2f6fab"/>
<circle cx="176.87" cy="134.57" r="0.78" fill="#2f6fab"/>
<circle cx="180.2" cy="150.78" r="0.78" fill="#2f6fab"/>
<circle cx="178.53" cy="150.9" r="0.78" fill="#2f6fab"/>
<line x1="180.2" y1="140.4" x2="180.2" y2="144.6" stroke="#000" stroke-width="1.4"/>
<line x1="177.6" y1="140.4" x2="182.8" y2="140.4" stroke="#000" stroke-width="1.4"/>
<line x1="177.6" y1="144.6" x2="182.8" y2="144.6" stroke="#000" stroke-width="1.4"/>
<line x1="174.8" y1="142.3" x2="185.6" y2="142.3" stroke="#000" stroke-width="1.8"/>
<circle cx="196.5" cy="136.42" r="0.78" fill="#d42c4c"/>
<circle cx="194.83" cy="136.42" r="0.78" fill="#d42c4c"/>
<circle cx="198.17" cy="136.33" r="0.78" fill="#d42c4c"/>
<circle cx="193.17" cy="136.49" r="0.78" fill="#d42c4c"/>
<circle cx="199.83" cy="136.29" r="0.78" fill="#d42c4c"/>
<circle cx="191.5" cy="136.51" r="0.78" fill="#d42c4c"/>
<circle cx="201.5" cy="136.53" r="0.78" fill="#d42c4c"/>
<circle cx="193.17" cy="136.24" r="0.78" fill="#d42c4c"/>
<circle cx="201.5" cy="136.24" r="0.78" fill="#d42c4c"/>
<circle cx="196.5" cy="136.21" r="0.78" fill="#d42c4c"/>
<circle cx="199.83" cy="136.2" r="0.78" fill="#d42c4c"/>
<circle cx="194.83" cy="136.6" r="0.78" fill="#d42c4c"/>
<circle cx="198.17" cy="136.16" r="0.78" fill="#d42c4c"/>
<circle cx="196.5" cy="136.14" r="0.78" fill="#d42c4c"/>
<circle cx="193.17" cy="135.97" r="0.78" fill="#d42c4c"/>
<circle cx="196.5" cy="135.88" r="0.78" fill="#d42c4c"/>
<circle cx="198.17" cy="136.93" r="0.78" fill="#d42c4c"/>
<circle cx="193.17" cy="135.84" r="0.78" fill="#d42c4c"/>
<circle cx="196.5" cy="135.8" r="0.78" fill="#d42c4c"/>
<circle cx="201.5" cy="135.7" r="0.78" fill="#d42c4c"/>
<circle cx="199.83" cy="137.12" r="0.78" fill="#d42c4c"/>
<circle cx="193.17" cy="135.67" r="0.78" fill="#d42c4c"/>
<circle cx="198.17" cy="137.14" r="0.78" fill="#d42c4c"/>
<circle cx="193.17" cy="135.65" r="0.78" fill="#d42c4c"/>
<circle cx="194.83" cy="137.3" r="0.78" fill="#d42c4c"/>
<circle cx="194.83" cy="135.47" r="0.78" fill="#d42c4c"/>
<circle cx="196.5" cy="135.46" r="0.78" fill="#d42c4c"/>
<circle cx="199.83" cy="137.46" r="0.78" fill="#d42c4c"/>
<circle cx="196.5" cy="135.28" r="0.78" fill="#d42c4c"/>
<circle cx="199.83" cy="137.68" r="0.78" fill="#d42c4c"/>
<circle cx="193.17" cy="135.09" r="0.78" fill="#d42c4c"/>
<circle cx="196.5" cy="134.88" r="0.78" fill="#d42c4c"/>
<circle cx="196.5" cy="138.06" r="0.78" fill="#d42c4c"/>
<circle cx="194.83" cy="138.17" r="0.78" fill="#d42c4c"/>
<circle cx="198.17" cy="138.26" r="0.78" fill="#d42c4c"/>
<circle cx="194.83" cy="134.51" r="0.78" fill="#d42c4c"/>
<circle cx="198.17" cy="134.51" r="0.78" fill="#d42c4c"/>
<circle cx="193.17" cy="138.34" r="0.78" fill="#d42c4c"/>
<circle cx="199.83" cy="134.38" r="0.78" fill="#d42c4c"/>
<circle cx="191.5" cy="138.44" r="0.78" fill="#d42c4c"/>
<circle cx="201.5" cy="138.45" r="0.78" fill="#d42c4c"/>
<circle cx="191.5" cy="134.35" r="0.78" fill="#d42c4c"/>
<circle cx="201.5" cy="134.23" r="0.78" fill="#d42c4c"/>
<circle cx="194.83" cy="138.6" r="0.78" fill="#d42c4c"/>
<circle cx="191.5" cy="134.18" r="0.78" fill="#d42c4c"/>
<circle cx="199.83" cy="138.67" r="0.78" fill="#d42c4c"/>
<circle cx="198.17" cy="134.12" r="0.78" fill="#d42c4c"/>
<circle cx="198.17" cy="138.68" r="0.78" fill="#d42c4c"/>
<circle cx="194.83" cy="138.87" r="0.78" fill="#d42c4c"/>
<circle cx="199.83" cy="138.92" r="0.78" fill="#d42c4c"/>
<circle cx="201.5" cy="138.93" r="0.78" fill="#d42c4c"/>
<circle cx="191.5" cy="133.85" r="0.78" fill="#d42c4c"/>
<circle cx="199.83" cy="139.04" r="0.78" fill="#d42c4c"/>
<circle cx="199.83" cy="133.75" r="0.78" fill="#d42c4c"/>
<circle cx="198.17" cy="139.21" r="0.78" fill="#d42c4c"/>
<circle cx="196.5" cy="139.22" r="0.78" fill="#d42c4c"/>
<circle cx="196.5" cy="133.46" r="0.78" fill="#d42c4c"/>
<circle cx="196.5" cy="139.47" r="0.78" fill="#d42c4c"/>
<circle cx="193.17" cy="133.24" r="0.78" fill="#d42c4c"/>
<circle cx="191.5" cy="133.22" r="0.78" fill="#d42c4c"/>
<circle cx="198.17" cy="133.2" r="0.78" fill="#d42c4c"/>
<circle cx="194.83" cy="133.17" r="0.78" fill="#d42c4c"/>
<circle cx="194.83" cy="133.06" r="0.78" fill="#d42c4c"/>
<circle cx="194.83" cy="139.77" r="0.78" fill="#d42c4c"/>
<circle cx="198.17" cy="132.69" r="0.78" fill="#d42c4c"/>
<circle cx="199.83" cy="132.46" r="0.78" fill="#d42c4c"/>
<circle cx="198.17" cy="140.34" r="0.78" fill="#d42c4c"/>
<circle cx="191.5" cy="132.34" r="0.78" fill="#d42c4c"/>
<circle cx="201.5" cy="132.27" r="0.78" fill="#d42c4c"/>
<circle cx="193.17" cy="140.59" r="0.78" fill="#d42c4c"/>
<circle cx="193.17" cy="132.19" r="0.78" fill="#d42c4c"/>
<circle cx="193.17" cy="132.15" r="0.78" fill="#d42c4c"/>
<circle cx="196.5" cy="132.01" r="0.78" fill="#d42c4c"/>
<circle cx="193.17" cy="131.89" r="0.78" fill="#d42c4c"/>
<circle cx="194.83" cy="131.64" r="0.78" fill="#d42c4c"/>
<circle cx="198.17" cy="131.11" r="0.78" fill="#d42c4c"/>
<circle cx="196.5" cy="141.81" r="0.78" fill="#d42c4c"/>
<circle cx="193.17" cy="130.94" r="0.78" fill="#d42c4c"/>
<circle cx="199.83" cy="130.92" r="0.78" fill="#d42c4c"/>
<circle cx="191.5" cy="130.71" r="0.78" fill="#d42c4c"/>
<circle cx="196.5" cy="130.37" r="0.78" fill="#d42c4c"/>
<circle cx="194.83" cy="142.98" r="0.78" fill="#d42c4c"/>
<circle cx="196.5" cy="128.24" r="0.78" fill="#d42c4c"/>
<circle cx="196.5" cy="126.8" r="0.78" fill="#d42c4c"/>
<circle cx="196.5" cy="147.8" r="0.78" fill="#d42c4c"/>
<line x1="196.5" y1="132.8" x2="196.5" y2="140.4" stroke="#000" stroke-width="1.4"/>
<line x1="193.9" y1="132.8" x2="199.1" y2="132.8" stroke="#000" stroke-width="1.4"/>
<line x1="193.9" y1="140.4" x2="199.1" y2="140.4" stroke="#000" stroke-width="1.4"/>
<line x1="191" y1="136.4" x2="202" y2="136.4" stroke="#000" stroke-width="1.8"/>
<text transform="translate(182.2 184.7) rotate(-45)" font-size="9" text-anchor="end" fill="#1d5c96" textLength="18.5" lengthAdjust="spacingAndGlyphs" stroke="#1d5c96" stroke-width="0.15">N=73</text>
<text transform="translate(201 184.7) rotate(-45)" font-size="9" text-anchor="end" fill="#c81e3c" textLength="18.5" lengthAdjust="spacingAndGlyphs" stroke="#c81e3c" stroke-width="0.15">N=85</text>
<line x1="235.9" y1="110.3" x2="235.9" y2="175.1" stroke="#000" stroke-width="1.3"/>
<line x1="232.1" y1="174.5" x2="235.9" y2="174.5" stroke="#000" stroke-width="1.3"/>
<text x="229.7" y="177.59" font-size="8.7" text-anchor="end" fill="#2a2a2a" textLength="4.4" lengthAdjust="spacingAndGlyphs" stroke="#2a2a2a" stroke-width="0.14">0</text>
<line x1="232.1" y1="153.3" x2="235.9" y2="153.3" stroke="#000" stroke-width="1.3"/>
<text x="229.7" y="156.39" font-size="8.7" text-anchor="end" fill="#2a2a2a" textLength="4.4" lengthAdjust="spacingAndGlyphs" stroke="#2a2a2a" stroke-width="0.14">5</text>
<line x1="232.1" y1="132.1" x2="235.9" y2="132.1" stroke="#000" stroke-width="1.3"/>
<text x="229.7" y="135.19" font-size="8.7" text-anchor="end" fill="#2a2a2a" textLength="8.8" lengthAdjust="spacingAndGlyphs" stroke="#2a2a2a" stroke-width="0.14">10</text>
<line x1="232.1" y1="110.9" x2="235.9" y2="110.9" stroke="#000" stroke-width="1.3"/>
<text x="229.7" y="113.99" font-size="8.7" text-anchor="end" fill="#2a2a2a" textLength="8.8" lengthAdjust="spacingAndGlyphs" stroke="#2a2a2a" stroke-width="0.14">15</text>
<line x1="232.1" y1="174.5" x2="273.4" y2="174.5" stroke="#000" stroke-width="1.3"/>
<line x1="246.2" y1="174.5" x2="246.2" y2="177.7" stroke="#000" stroke-width="1.3"/>
<line x1="262.3" y1="174.5" x2="262.3" y2="177.7" stroke="#000" stroke-width="1.3"/>
<text x="253.8" y="85.6" font-size="9.2" text-anchor="middle" textLength="20.2" lengthAdjust="spacingAndGlyphs" stroke="#1a1a1a" stroke-width="0.14">IFN-γ</text>
<text x="258.5" y="97.5" font-size="7.6" text-anchor="middle" textLength="33" lengthAdjust="spacingAndGlyphs" font-style="italic" stroke="#1a1a1a" stroke-width="0.14">P=0.0549</text>
<path d="M243.7 105.2 V101.4 H263.4 V105.2" stroke="#000" stroke-width="1.2" fill="none"/>
<circle cx="246.2" cy="145.05" r="0.78" fill="#2f6fab"/>
<circle cx="244.53" cy="144.93" r="0.78" fill="#2f6fab"/>
<circle cx="247.87" cy="145.08" r="0.78" fill="#2f6fab"/>
<circle cx="242.87" cy="144.85" r="0.78" fill="#2f6fab"/>
<circle cx="249.53" cy="145.19" r="0.78" fill="#2f6fab"/>
<circle cx="241.2" cy="144.72" r="0.78" fill="#2f6fab"/>
<circle cx="251.2" cy="145.34" r="0.78" fill="#2f6fab"/>
<circle cx="244.53" cy="144.65" r="0.78" fill="#2f6fab"/>
<circle cx="249.53" cy="144.65" r="0.78" fill="#2f6fab"/>
<circle cx="244.53" cy="145.5" r="0.78" fill="#2f6fab"/>
<circle cx="244.53" cy="144.47" r="0.78" fill="#2f6fab"/>
<circle cx="246.2" cy="144.43" r="0.78" fill="#2f6fab"/>
<circle cx="244.53" cy="144.28" r="0.78" fill="#2f6fab"/>
<circle cx="247.87" cy="145.83" r="0.78" fill="#2f6fab"/>
<circle cx="249.53" cy="144.11" r="0.78" fill="#2f6fab"/>
<circle cx="249.53" cy="143.8" r="0.78" fill="#2f6fab"/>
<circle cx="246.2" cy="143.6" r="0.78" fill="#2f6fab"/>
<circle cx="244.53" cy="143.57" r="0.78" fill="#2f6fab"/>
<circle cx="247.87" cy="143.54" r="0.78" fill="#2f6fab"/>
<circle cx="251.2" cy="143.54" r="0.78" fill="#2f6fab"/>
<circle cx="246.2" cy="143.51" r="0.78" fill="#2f6fab"/>
<circle cx="242.87" cy="143.49" r="0.78" fill="#2f6fab"/>
<circle cx="247.87" cy="143.48" r="0.78" fill="#2f6fab"/>
<circle cx="241.2" cy="143.31" r="0.78" fill="#2f6fab"/>
<circle cx="244.53" cy="143.06" r="0.78" fill="#2f6fab"/>
<circle cx="247.87" cy="143.04" r="0.78" fill="#2f6fab"/>
<circle cx="246.2" cy="147.1" r="0.78" fill="#2f6fab"/>
<circle cx="247.87" cy="142.88" r="0.78" fill="#2f6fab"/>
<circle cx="244.53" cy="147.14" r="0.78" fill="#2f6fab"/>
<circle cx="247.87" cy="147.16" r="0.78" fill="#2f6fab"/>
<circle cx="251.2" cy="142.84" r="0.78" fill="#2f6fab"/>
<circle cx="242.87" cy="147.24" r="0.78" fill="#2f6fab"/>
<circle cx="249.53" cy="142.6" r="0.78" fill="#2f6fab"/>
<circle cx="249.53" cy="147.44" r="0.78" fill="#2f6fab"/>
<circle cx="241.2" cy="147.5" r="0.78" fill="#2f6fab"/>
<circle cx="251.2" cy="147.65" r="0.78" fill="#2f6fab"/>
<circle cx="244.53" cy="147.98" r="0.78" fill="#2f6fab"/>
<circle cx="246.2" cy="148.05" r="0.78" fill="#2f6fab"/>
<circle cx="241.2" cy="148.13" r="0.78" fill="#2f6fab"/>
<circle cx="251.2" cy="148.22" r="0.78" fill="#2f6fab"/>
<circle cx="246.2" cy="141.72" r="0.78" fill="#2f6fab"/>
<circle cx="246.2" cy="148.48" r="0.78" fill="#2f6fab"/>
<circle cx="244.53" cy="141.31" r="0.78" fill="#2f6fab"/>
<circle cx="247.87" cy="141.08" r="0.78" fill="#2f6fab"/>
<circle cx="244.53" cy="149.16" r="0.78" fill="#2f6fab"/>
<circle cx="247.87" cy="149.18" r="0.78" fill="#2f6fab"/>
<circle cx="242.87" cy="149.2" r="0.78" fill="#2f6fab"/>
<circle cx="249.53" cy="149.34" r="0.78" fill="#2f6fab"/>
<circle cx="242.87" cy="140.44" r="0.78" fill="#2f6fab"/>
<circle cx="241.2" cy="149.73" r="0.78" fill="#2f6fab"/>
<circle cx="246.2" cy="140.22" r="0.78" fill="#2f6fab"/>
<circle cx="246.2" cy="149.87" r="0.78" fill="#2f6fab"/>
<circle cx="251.2" cy="150.39" r="0.78" fill="#2f6fab"/>
<circle cx="244.53" cy="150.61" r="0.78" fill="#2f6fab"/>
<circle cx="244.53" cy="139.27" r="0.78" fill="#2f6fab"/>
<circle cx="247.87" cy="150.84" r="0.78" fill="#2f6fab"/>
<circle cx="246.2" cy="138.71" r="0.78" fill="#2f6fab"/>
<circle cx="246.2" cy="151.56" r="0.78" fill="#2f6fab"/>
<circle cx="244.53" cy="152.14" r="0.78" fill="#2f6fab"/>
<circle cx="247.87" cy="152.27" r="0.78" fill="#2f6fab"/>
<circle cx="246.2" cy="136.81" r="0.78" fill="#2f6fab"/>
<circle cx="244.53" cy="136.8" r="0.78" fill="#2f6fab"/>
<circle cx="247.87" cy="136.4" r="0.78" fill="#2f6fab"/>
<circle cx="246.2" cy="153.75" r="0.78" fill="#2f6fab"/>
<circle cx="244.53" cy="154.27" r="0.78" fill="#2f6fab"/>
<circle cx="247.87" cy="154.39" r="0.78" fill="#2f6fab"/>
<circle cx="242.87" cy="154.99" r="0.78" fill="#2f6fab"/>
<circle cx="246.2" cy="156.99" r="0.78" fill="#2f6fab"/>
<circle cx="244.53" cy="157.2" r="0.78" fill="#2f6fab"/>
<circle cx="247.87" cy="157.82" r="0.78" fill="#2f6fab"/>
<circle cx="242.87" cy="158.08" r="0.78" fill="#2f6fab"/>
<circle cx="246.2" cy="158.71" r="0.78" fill="#2f6fab"/>
<circle cx="246.2" cy="162.1" r="0.78" fill="#2f6fab"/>
<line x1="246.2" y1="142.3" x2="246.2" y2="148.1" stroke="#000" stroke-width="1.4"/>
<line x1="243.4" y1="142.3" x2="249" y2="142.3" stroke="#000" stroke-width="1.4"/>
<line x1="243.4" y1="148.1" x2="249" y2="148.1" stroke="#000" stroke-width="1.4"/>
<line x1="240.8" y1="145" x2="251.6" y2="145" stroke="#000" stroke-width="1.8"/>
<circle cx="262.3" cy="143.51" r="0.78" fill="#d42c4c"/>
<circle cx="260.57" cy="143.52" r="0.78" fill="#d42c4c"/>
<circle cx="264.03" cy="143.55" r="0.78" fill="#d42c4c"/>
<circle cx="258.83" cy="143.44" r="0.78" fill="#d42c4c"/>
<circle cx="265.77" cy="143.67" r="0.78" fill="#d42c4c"/>
<circle cx="257.1" cy="143.74" r="0.78" fill="#d42c4c"/>
<circle cx="267.5" cy="143.26" r="0.78" fill="#d42c4c"/>
<circle cx="260.57" cy="143.78" r="0.78" fill="#d42c4c"/>
<circle cx="262.3" cy="143.18" r="0.78" fill="#d42c4c"/>
<circle cx="267.5" cy="144.01" r="0.78" fill="#d42c4c"/>
<circle cx="264.03" cy="142.99" r="0.78" fill="#d42c4c"/>
<circle cx="257.1" cy="142.96" r="0.78" fill="#d42c4c"/>
<circle cx="267.5" cy="144.07" r="0.78" fill="#d42c4c"/>
<circle cx="265.77" cy="142.89" r="0.78" fill="#d42c4c"/>
<circle cx="262.3" cy="142.84" r="0.78" fill="#d42c4c"/>
<circle cx="260.57" cy="144.23" r="0.78" fill="#d42c4c"/>
<circle cx="258.83" cy="144.3" r="0.78" fill="#d42c4c"/>
<circle cx="260.57" cy="142.66" r="0.78" fill="#d42c4c"/>
<circle cx="264.03" cy="144.34" r="0.78" fill="#d42c4c"/>
<circle cx="267.5" cy="142.61" r="0.78" fill="#d42c4c"/>
<circle cx="267.5" cy="142.56" r="0.78" fill="#d42c4c"/>
<circle cx="260.57" cy="144.47" r="0.78" fill="#d42c4c"/>
<circle cx="260.57" cy="144.61" r="0.78" fill="#d42c4c"/>
<circle cx="267.5" cy="144.62" r="0.78" fill="#d42c4c"/>
<circle cx="257.1" cy="142.36" r="0.78" fill="#d42c4c"/>
<circle cx="258.83" cy="144.77" r="0.78" fill="#d42c4c"/>
<circle cx="262.3" cy="145.02" r="0.78" fill="#d42c4c"/>
<circle cx="262.3" cy="141.92" r="0.78" fill="#d42c4c"/>
<circle cx="260.57" cy="141.88" r="0.78" fill="#d42c4c"/>
<circle cx="264.03" cy="141.83" r="0.78" fill="#d42c4c"/>
<circle cx="258.83" cy="141.77" r="0.78" fill="#d42c4c"/>
<circle cx="265.77" cy="141.63" r="0.78" fill="#d42c4c"/>
<circle cx="260.57" cy="145.9" r="0.78" fill="#d42c4c"/>
<circle cx="267.5" cy="141.07" r="0.78" fill="#d42c4c"/>
<circle cx="264.03" cy="145.97" r="0.78" fill="#d42c4c"/>
<circle cx="257.1" cy="141.01" r="0.78" fill="#d42c4c"/>
<circle cx="260.57" cy="140.97" r="0.78" fill="#d42c4c"/>
<circle cx="258.83" cy="146.11" r="0.78" fill="#d42c4c"/>
<circle cx="265.77" cy="146.19" r="0.78" fill="#d42c4c"/>
<circle cx="264.03" cy="140.62" r="0.78" fill="#d42c4c"/>
<circle cx="267.5" cy="140.6" r="0.78" fill="#d42c4c"/>
<circle cx="262.3" cy="140.49" r="0.78" fill="#d42c4c"/>
<circle cx="260.57" cy="140.41" r="0.78" fill="#d42c4c"/>
<circle cx="262.3" cy="146.59" r="0.78" fill="#d42c4c"/>
<circle cx="257.1" cy="146.7" r="0.78" fill="#d42c4c"/>
<circle cx="264.03" cy="140.25" r="0.78" fill="#d42c4c"/>
<circle cx="258.83" cy="140.14" r="0.78" fill="#d42c4c"/>
<circle cx="267.5" cy="146.94" r="0.78" fill="#d42c4c"/>
<circle cx="265.77" cy="140.05" r="0.78" fill="#d42c4c"/>
<circle cx="257.1" cy="139.65" r="0.78" fill="#d42c4c"/>
<circle cx="260.57" cy="147.39" r="0.78" fill="#d42c4c"/>
<circle cx="264.03" cy="147.64" r="0.78" fill="#d42c4c"/>
<circle cx="258.83" cy="147.66" r="0.78" fill="#d42c4c"/>
<circle cx="265.77" cy="147.71" r="0.78" fill="#d42c4c"/>
<circle cx="264.03" cy="147.73" r="0.78" fill="#d42c4c"/>
<circle cx="262.3" cy="147.94" r="0.78" fill="#d42c4c"/>
<circle cx="262.3" cy="139.03" r="0.78" fill="#d42c4c"/>
<circle cx="260.57" cy="138.91" r="0.78" fill="#d42c4c"/>
<circle cx="264.03" cy="138.84" r="0.78" fill="#d42c4c"/>
<circle cx="258.83" cy="138.71" r="0.78" fill="#d42c4c"/>
<circle cx="265.77" cy="138.53" r="0.78" fill="#d42c4c"/>
<circle cx="262.3" cy="148.48" r="0.78" fill="#d42c4c"/>
<circle cx="257.1" cy="148.51" r="0.78" fill="#d42c4c"/>
<circle cx="267.5" cy="148.55" r="0.78" fill="#d42c4c"/>
<circle cx="267.5" cy="138.43" r="0.78" fill="#d42c4c"/>
<circle cx="260.57" cy="149.01" r="0.78" fill="#d42c4c"/>
<circle cx="257.1" cy="137.77" r="0.78" fill="#d42c4c"/>
<circle cx="265.77" cy="137.71" r="0.78" fill="#d42c4c"/>
<circle cx="264.03" cy="149.32" r="0.78" fill="#d42c4c"/>
<circle cx="258.83" cy="149.4" r="0.78" fill="#d42c4c"/>
<circle cx="265.77" cy="149.81" r="0.78" fill="#d42c4c"/>
<circle cx="262.3" cy="150.19" r="0.78" fill="#d42c4c"/>
<circle cx="260.57" cy="150.61" r="0.78" fill="#d42c4c"/>
<circle cx="262.3" cy="136.3" r="0.78" fill="#d42c4c"/>
<circle cx="260.57" cy="136.11" r="0.78" fill="#d42c4c"/>
<circle cx="264.03" cy="150.91" r="0.78" fill="#d42c4c"/>
<circle cx="264.03" cy="135.91" r="0.78" fill="#d42c4c"/>
<circle cx="258.83" cy="135.31" r="0.78" fill="#d42c4c"/>
<circle cx="262.3" cy="151.74" r="0.78" fill="#d42c4c"/>
<circle cx="258.83" cy="151.87" r="0.78" fill="#d42c4c"/>
<circle cx="262.3" cy="134.92" r="0.78" fill="#d42c4c"/>
<circle cx="262.3" cy="156.21" r="0.78" fill="#d42c4c"/>
<circle cx="260.57" cy="156.4" r="0.78" fill="#d42c4c"/>
<circle cx="262.3" cy="159" r="0.78" fill="#d42c4c"/>
<circle cx="262.3" cy="126" r="0.78" fill="#d42c4c"/>
<line x1="262.3" y1="140.8" x2="262.3" y2="146.9" stroke="#000" stroke-width="1.4"/>
<line x1="259.5" y1="140.8" x2="265.1" y2="140.8" stroke="#000" stroke-width="1.4"/>
<line x1="259.5" y1="146.9" x2="265.1" y2="146.9" stroke="#000" stroke-width="1.4"/>
<line x1="256.7" y1="143.5" x2="267.9" y2="143.5" stroke="#000" stroke-width="1.8"/>
<text transform="translate(248.2 184.7) rotate(-45)" font-size="9" text-anchor="end" fill="#1d5c96" textLength="18.5" lengthAdjust="spacingAndGlyphs" stroke="#1d5c96" stroke-width="0.15">N=73</text>
<text transform="translate(266.8 184.7) rotate(-45)" font-size="9" text-anchor="end" fill="#c81e3c" textLength="18.5" lengthAdjust="spacingAndGlyphs" stroke="#c81e3c" stroke-width="0.15">N=85</text>
<text transform="translate(14.8 143.4) rotate(-90)" font-size="8.4" text-anchor="middle" textLength="38" lengthAdjust="spacingAndGlyphs" stroke="#1a1a1a" stroke-width="0.14">Log<tspan font-size="5.5" dy="2">2</tspan><tspan dy="-2"> mRNA</tspan></text>
<rect x="321.2" y="42.4" width="12.4" height="7.8" fill="none" stroke="#c81e3c" stroke-width="1.4"/>
<rect x="321.2" y="56.9" width="12.4" height="7.6" fill="none" stroke="#1d5c96" stroke-width="1.4"/>
<text x="337" y="50.3" font-size="8.6" fill="#c81e3c" textLength="88.5" lengthAdjust="spacingAndGlyphs">GM-CSF<tspan font-size="4.73" dy="-3.01">high</tspan><tspan dy="3.01">TNF</tspan><tspan font-size="4.73" dy="-3.01">high</tspan><tspan dy="3.01">IFN-γ</tspan><tspan font-size="4.73" dy="-3.01">high</tspan></text>
<text x="337" y="64.2" font-size="8.6" fill="#1d5c96" textLength="83" lengthAdjust="spacingAndGlyphs">GM-CSF<tspan font-size="4.73" dy="-3.01">low</tspan><tspan dy="3.01">TNF</tspan><tspan font-size="4.73" dy="-3.01">low</tspan><tspan dy="3.01">IFN-γ</tspan><tspan font-size="4.73" dy="-3.01">low</tspan></text>
<line x1="336.6" y1="108.8" x2="336.6" y2="174.4" stroke="#000" stroke-width="1.3"/>
<line x1="332.8" y1="173.8" x2="336.6" y2="173.8" stroke="#000" stroke-width="1.3"/>
<text x="331.4" y="176.89" font-size="8.7" text-anchor="end" fill="#2a2a2a" textLength="4.4" lengthAdjust="spacingAndGlyphs" stroke="#2a2a2a" stroke-width="0.14">0</text>
<line x1="332.8" y1="160.92" x2="336.6" y2="160.92" stroke="#000" stroke-width="1.3"/>
<text x="331.4" y="164.01" font-size="8.7" text-anchor="end" fill="#2a2a2a" textLength="8.8" lengthAdjust="spacingAndGlyphs" stroke="#2a2a2a" stroke-width="0.14">20</text>
<line x1="332.8" y1="148.04" x2="336.6" y2="148.04" stroke="#000" stroke-width="1.3"/>
<text x="331.4" y="151.13" font-size="8.7" text-anchor="end" fill="#2a2a2a" textLength="8.8" lengthAdjust="spacingAndGlyphs" stroke="#2a2a2a" stroke-width="0.14">40</text>
<line x1="332.8" y1="135.16" x2="336.6" y2="135.16" stroke="#000" stroke-width="1.3"/>
<text x="331.4" y="138.25" font-size="8.7" text-anchor="end" fill="#2a2a2a" textLength="8.8" lengthAdjust="spacingAndGlyphs" stroke="#2a2a2a" stroke-width="0.14">60</text>
<line x1="332.8" y1="122.28" x2="336.6" y2="122.28" stroke="#000" stroke-width="1.3"/>
<text x="331.4" y="125.37" font-size="8.7" text-anchor="end" fill="#2a2a2a" textLength="8.8" lengthAdjust="spacingAndGlyphs" stroke="#2a2a2a" stroke-width="0.14">80</text>
<line x1="332.8" y1="109.4" x2="336.6" y2="109.4" stroke="#000" stroke-width="1.3"/>
<text x="331.4" y="112.49" font-size="8.7" text-anchor="end" fill="#2a2a2a" textLength="13.2" lengthAdjust="spacingAndGlyphs" stroke="#2a2a2a" stroke-width="0.14">100</text>
<line x1="332.8" y1="173.8" x2="380" y2="173.8" stroke="#000" stroke-width="1.3"/>
<line x1="349.3" y1="173.8" x2="349.3" y2="177" stroke="#000" stroke-width="1.3"/>
<line x1="368" y1="173.8" x2="368" y2="177" stroke="#000" stroke-width="1.3"/>
<text x="357.5" y="95.6" font-size="7.6" text-anchor="middle" textLength="31" lengthAdjust="spacingAndGlyphs" font-style="italic" stroke="#1a1a1a" stroke-width="0.14">P&lt;0.0001</text>
<path d="M349.5 103.4 V99.8 H367.5 V103.4" stroke="#000" stroke-width="1.2" fill="none"/>
<line x1="434.6" y1="108.8" x2="434.6" y2="174.4" stroke="#000" stroke-width="1.3"/>
<line x1="430.8" y1="173.8" x2="434.6" y2="173.8" stroke="#000" stroke-width="1.3"/>
<text x="429.4" y="176.89" font-size="8.7" text-anchor="end" fill="#2a2a2a" textLength="4.4" lengthAdjust="spacingAndGlyphs" stroke="#2a2a2a" stroke-width="0.14">0</text>
<line x1="430.8" y1="160.92" x2="434.6" y2="160.92" stroke="#000" stroke-width="1.3"/>
<text x="429.4" y="164.01" font-size="8.7" text-anchor="end" fill="#2a2a2a" textLength="8.8" lengthAdjust="spacingAndGlyphs" stroke="#2a2a2a" stroke-width="0.14">20</text>
<line x1="430.8" y1="148.04" x2="434.6" y2="148.04" stroke="#000" stroke-width="1.3"/>
<text x="429.4" y="151.13" font-size="8.7" text-anchor="end" fill="#2a2a2a" textLength="8.8" lengthAdjust="spacingAndGlyphs" stroke="#2a2a2a" stroke-width="0.14">40</text>
<line x1="430.8" y1="135.16" x2="434.6" y2="135.16" stroke="#000" stroke-width="1.3"/>
<text x="429.4" y="138.25" font-size="8.7" text-anchor="end" fill="#2a2a2a" textLength="8.8" lengthAdjust="spacingAndGlyphs" stroke="#2a2a2a" stroke-width="0.14">60</text>
<line x1="430.8" y1="122.28" x2="434.6" y2="122.28" stroke="#000" stroke-width="1.3"/>
<text x="429.4" y="125.37" font-size="8.7" text-anchor="end" fill="#2a2a2a" textLength="8.8" lengthAdjust="spacingAndGlyphs" stroke="#2a2a2a" stroke-width="0.14">80</text>
<line x1="430.8" y1="109.4" x2="434.6" y2="109.4" stroke="#000" stroke-width="1.3"/>
<text x="429.4" y="112.49" font-size="8.7" text-anchor="end" fill="#2a2a2a" textLength="13.2" lengthAdjust="spacingAndGlyphs" stroke="#2a2a2a" stroke-width="0.14">100</text>
<line x1="430.8" y1="173.8" x2="477.6" y2="173.8" stroke="#000" stroke-width="1.3"/>
<line x1="446.6" y1="173.8" x2="446.6" y2="177" stroke="#000" stroke-width="1.3"/>
<line x1="465" y1="173.8" x2="465" y2="177" stroke="#000" stroke-width="1.3"/>
<text x="453.5" y="95.6" font-size="7.6" text-anchor="middle" textLength="32" lengthAdjust="spacingAndGlyphs" font-style="italic" stroke="#1a1a1a" stroke-width="0.14">P&lt;0.0001</text>
<path d="M445 103.4 V99.8 H462.5 V103.4" stroke="#000" stroke-width="1.2" fill="none"/>
<rect x="362.5" y="109" width="10.6" height="64.8" fill="none" stroke="#1d5c96" stroke-width="1.5"/>
<line x1="362" y1="109.2" x2="373.4" y2="109.2" stroke="#114a86" stroke-width="2.2"/>
<line x1="349.3" y1="157.4" x2="349.3" y2="173.8" stroke="#000" stroke-width="1.3"/>
<line x1="346.6" y1="157.4" x2="352.1" y2="157.4" stroke="#000" stroke-width="1.3"/>
<circle cx="346.7" cy="109" r="1.35" fill="#c81e3c"/>
<circle cx="351.7" cy="109" r="1.35" fill="#c81e3c"/>
<circle cx="349.3" cy="116.6" r="1.35" fill="#c81e3c"/>
<circle cx="349.3" cy="131.3" r="1.35" fill="#c81e3c"/>
<circle cx="349.3" cy="150" r="1.35" fill="#c81e3c"/>
<circle cx="344.4" cy="162" r="1.35" fill="#c81e3c"/>
<circle cx="354.3" cy="162" r="1.35" fill="#c81e3c"/>
<circle cx="349.4" cy="160.4" r="1.35" fill="#c81e3c"/>
<circle cx="349.4" cy="165.7" r="1.35" fill="#c81e3c"/>
<circle cx="343.8" cy="173.4" r="1.35" fill="#c81e3c"/>
<circle cx="345.5" cy="173.4" r="1.35" fill="#c81e3c"/>
<circle cx="347.2" cy="173.4" r="1.35" fill="#c81e3c"/>
<circle cx="348.9" cy="173.4" r="1.35" fill="#c81e3c"/>
<circle cx="350.6" cy="173.4" r="1.35" fill="#c81e3c"/>
<circle cx="352.3" cy="173.4" r="1.35" fill="#c81e3c"/>
<circle cx="354" cy="173.4" r="1.35" fill="#c81e3c"/>
<circle cx="355.2" cy="173.4" r="1.35" fill="#c81e3c"/>
<line x1="368.2" y1="108.9" x2="368.2" y2="112.3" stroke="#000" stroke-width="1.2"/>
<line x1="364.8" y1="112.3" x2="370.6" y2="112.3" stroke="#000" stroke-width="1.3"/>
<circle cx="368.2" cy="112.4" r="1.35" fill="#114a86"/>
<circle cx="368.2" cy="119.3" r="1.35" fill="#114a86"/>
<circle cx="368.2" cy="128.1" r="1.35" fill="#114a86"/>
<circle cx="368.2" cy="151.6" r="1.35" fill="#114a86"/>
<circle cx="368.2" cy="173.4" r="1.35" fill="#114a86"/>
<rect x="441.8" y="109" width="10.2" height="64.8" fill="none" stroke="#c81e3c" stroke-width="1.5"/>
<line x1="441.4" y1="109.2" x2="452.5" y2="109.2" stroke="#c81e3c" stroke-width="2.2"/>
<line x1="446.6" y1="109.8" x2="446.6" y2="137.2" stroke="#000" stroke-width="1.3"/>
<line x1="444.1" y1="137.2" x2="449.8" y2="137.2" stroke="#000" stroke-width="1.3"/>
<circle cx="446.6" cy="116.7" r="1.35" fill="#c81e3c"/>
<circle cx="446.6" cy="120.2" r="1.35" fill="#c81e3c"/>
<circle cx="442.2" cy="121.9" r="1.35" fill="#c81e3c"/>
<circle cx="451.3" cy="121.9" r="1.35" fill="#c81e3c"/>
<circle cx="446.6" cy="132.4" r="1.35" fill="#c81e3c"/>
<circle cx="446.6" cy="150.9" r="1.35" fill="#c81e3c"/>
<circle cx="446.6" cy="165.9" r="1.35" fill="#c81e3c"/>
<circle cx="442.2" cy="173.6" r="1.35" fill="#c81e3c"/>
<circle cx="446.6" cy="173.6" r="1.35" fill="#c81e3c"/>
<circle cx="451.3" cy="173.6" r="1.35" fill="#c81e3c"/>
<circle cx="465" cy="108.5" r="1.35" fill="#114a86"/>
<circle cx="465" cy="130.9" r="1.35" fill="#114a86"/>
<circle cx="465" cy="154.2" r="1.35" fill="#114a86"/>
<circle cx="465" cy="163.3" r="1.35" fill="#114a86"/>
<line x1="465" y1="169.8" x2="465" y2="173.8" stroke="#000" stroke-width="1.2"/>
<line x1="462" y1="169.8" x2="467.9" y2="169.8" stroke="#000" stroke-width="1.3"/>
<circle cx="460" cy="173.4" r="1.35" fill="#114a86"/>
<circle cx="461.7" cy="173.4" r="1.35" fill="#114a86"/>
<circle cx="463.4" cy="173.4" r="1.35" fill="#114a86"/>
<circle cx="465.1" cy="173.4" r="1.35" fill="#114a86"/>
<circle cx="466.8" cy="173.4" r="1.35" fill="#114a86"/>
<circle cx="468.5" cy="173.4" r="1.35" fill="#114a86"/>
<circle cx="470" cy="173.4" r="1.35" fill="#114a86"/>
<text transform="translate(303.6 142.7) rotate(-90)" font-size="8.4" text-anchor="middle" textLength="37.2" lengthAdjust="spacingAndGlyphs" stroke="#1a1a1a" stroke-width="0.14">Resting NK</text>
<text transform="translate(315 142.3) rotate(-90)" font-size="8.4" text-anchor="middle" textLength="40" lengthAdjust="spacingAndGlyphs" stroke="#1a1a1a" stroke-width="0.14">(% total NK)</text>
<text transform="translate(401.6 142.7) rotate(-90)" font-size="8.4" text-anchor="middle" textLength="42" lengthAdjust="spacingAndGlyphs" stroke="#1a1a1a" stroke-width="0.14">Activated NK</text>
<text transform="translate(413.8 142.6) rotate(-90)" font-size="8.4" text-anchor="middle" textLength="40" lengthAdjust="spacingAndGlyphs" stroke="#1a1a1a" stroke-width="0.14">(% total NK)</text>
<text transform="translate(351.3 184) rotate(-45)" font-size="9" text-anchor="end" fill="#c81e3c" textLength="18.5" lengthAdjust="spacingAndGlyphs" stroke="#c81e3c" stroke-width="0.15">N=22</text>
<text transform="translate(370 184) rotate(-45)" font-size="9" text-anchor="end" fill="#1d5c96" textLength="18.5" lengthAdjust="spacingAndGlyphs" stroke="#1d5c96" stroke-width="0.15">N=19</text>
<text transform="translate(448.6 184) rotate(-45)" font-size="9" text-anchor="end" fill="#c81e3c" textLength="18.5" lengthAdjust="spacingAndGlyphs" stroke="#c81e3c" stroke-width="0.15">N=22</text>
<text transform="translate(467 184) rotate(-45)" font-size="9" text-anchor="end" fill="#1d5c96" textLength="18.5" lengthAdjust="spacingAndGlyphs" stroke="#1d5c96" stroke-width="0.15">N=19</text>
<rect x="91.9" y="220.2" width="12" height="7.8" fill="none" stroke="#c81e3c" stroke-width="1.4"/>
<rect x="91.9" y="234.4" width="12" height="7.6" fill="none" stroke="#1d5c96" stroke-width="1.4"/>
<text x="107" y="227.8" font-size="8.7" fill="#c81e3c" textLength="87.5" lengthAdjust="spacingAndGlyphs">GM-CSF<tspan font-size="4.79" dy="-3.04">high</tspan><tspan dy="3.04">TNF</tspan><tspan font-size="4.79" dy="-3.04">high</tspan><tspan dy="3.04">IFN-γ</tspan><tspan font-size="4.79" dy="-3.04">high</tspan></text>
<text x="107" y="241.3" font-size="8.7" fill="#1d5c96" textLength="83" lengthAdjust="spacingAndGlyphs">GM-CSF<tspan font-size="4.79" dy="-3.04">low</tspan><tspan dy="3.04">TNF</tspan><tspan font-size="4.79" dy="-3.04">low</tspan><tspan dy="3.04">IFN-γ</tspan><tspan font-size="4.79" dy="-3.04">low</tspan></text>
<rect x="20.2" y="279" width="12.9" height="8.3" fill="#8c8c8c"/>
<rect x="20.8" y="293.5" width="11.7" height="7.4" fill="#fff" stroke="#111" stroke-width="1.2"/>
<text x="36.5" y="285.7" font-size="7.6" textLength="48.1" lengthAdjust="spacingAndGlyphs" stroke="#1a1a1a" stroke-width="0.14">WBC&gt;100,000</text>
<text x="36.5" y="299.6" font-size="7.6" textLength="48.1" lengthAdjust="spacingAndGlyphs" stroke="#1a1a1a" stroke-width="0.14">WBC&lt;100,000</text>
<rect x="106.3" y="279" width="13.2" height="8.3" fill="#8c8c8c"/>
<rect x="106.9" y="293.5" width="12" height="7.4" fill="#fff" stroke="#111" stroke-width="1.2"/>
<text x="122.5" y="285.7" font-size="7.6" textLength="26.3" lengthAdjust="spacingAndGlyphs" stroke="#1a1a1a" stroke-width="0.14">Relapse</text>
<text x="122.5" y="299.6" font-size="7.6" textLength="37" lengthAdjust="spacingAndGlyphs" stroke="#1a1a1a" stroke-width="0.14">No relapse</text>
<rect x="181.3" y="279" width="13.2" height="8.3" fill="#8c8c8c"/>
<rect x="181.9" y="293.5" width="12" height="7.4" fill="#fff" stroke="#111" stroke-width="1.2"/>
<text x="197" y="285.7" font-size="7.6" textLength="15.5" lengthAdjust="spacingAndGlyphs" stroke="#1a1a1a" stroke-width="0.14">CNS<tspan font-size="5.2" dy="-3">+</tspan></text>
<text x="197" y="299.6" font-size="7.6" textLength="15.5" lengthAdjust="spacingAndGlyphs" stroke="#1a1a1a" stroke-width="0.14">CNS<tspan font-size="5.2" dy="-3">−</tspan></text>
<rect x="234.5" y="279" width="13.2" height="8.3" fill="#8c8c8c"/>
<rect x="235.1" y="293.5" width="12" height="7.4" fill="#fff" stroke="#111" stroke-width="1.2"/>
<text x="250.8" y="285.7" font-size="7.6" textLength="34.3" lengthAdjust="spacingAndGlyphs" stroke="#1a1a1a" stroke-width="0.14">Testicular<tspan font-size="5.2" dy="-3">+</tspan></text>
<text x="250.8" y="299.6" font-size="7.6" textLength="35" lengthAdjust="spacingAndGlyphs" stroke="#1a1a1a" stroke-width="0.14">Testicular<tspan font-size="5.2" dy="-3">−</tspan></text>
<rect x="303" y="279" width="13.2" height="8.3" fill="#8c8c8c"/>
<rect x="303.6" y="293.5" width="12" height="7.4" fill="#fff" stroke="#111" stroke-width="1.2"/>
<text x="318.8" y="285.7" font-size="7.6" textLength="16.3" lengthAdjust="spacingAndGlyphs" stroke="#1a1a1a" stroke-width="0.14">MRD<tspan font-size="5.2" dy="-3">+</tspan></text>
<text x="318.8" y="299.6" font-size="7.6" textLength="16.3" lengthAdjust="spacingAndGlyphs" stroke="#1a1a1a" stroke-width="0.14">MRD<tspan font-size="5.2" dy="-3">−</tspan></text>
<rect x="42.3" y="316" width="12.3" height="37.7" fill="#8c8c8c"/>
<path d="M42.98 378.5 V316.68 H53.93 V378.5" stroke="#c81e3c" stroke-width="1.35" fill="none"/>
<line x1="42.98" y1="353.7" x2="53.93" y2="353.7" stroke="#c81e3c" stroke-width="1.35"/>
<rect x="59.1" y="316" width="12.4" height="22.2" fill="#8c8c8c"/>
<path d="M59.77 378.5 V316.68 H70.83 V378.5" stroke="#1d5c96" stroke-width="1.35" fill="none"/>
<line x1="59.77" y1="338.2" x2="70.83" y2="338.2" stroke="#1d5c96" stroke-width="1.35"/>
<line x1="37.6" y1="315.9" x2="37.6" y2="379.1" stroke="#000" stroke-width="1.3"/>
<line x1="33.8" y1="378.5" x2="37.6" y2="378.5" stroke="#000" stroke-width="1.3"/>
<text x="31.8" y="381.59" font-size="8.7" text-anchor="end" fill="#2a2a2a" textLength="4.4" lengthAdjust="spacingAndGlyphs" stroke="#2a2a2a" stroke-width="0.14">0</text>
<line x1="33.8" y1="366.1" x2="37.6" y2="366.1" stroke="#000" stroke-width="1.3"/>
<text x="31.8" y="369.19" font-size="8.7" text-anchor="end" fill="#2a2a2a" textLength="8.8" lengthAdjust="spacingAndGlyphs" stroke="#2a2a2a" stroke-width="0.14">20</text>
<line x1="33.8" y1="353.7" x2="37.6" y2="353.7" stroke="#000" stroke-width="1.3"/>
<text x="31.8" y="356.79" font-size="8.7" text-anchor="end" fill="#2a2a2a" textLength="8.8" lengthAdjust="spacingAndGlyphs" stroke="#2a2a2a" stroke-width="0.14">40</text>
<line x1="33.8" y1="341.3" x2="37.6" y2="341.3" stroke="#000" stroke-width="1.3"/>
<text x="31.8" y="344.39" font-size="8.7" text-anchor="end" fill="#2a2a2a" textLength="8.8" lengthAdjust="spacingAndGlyphs" stroke="#2a2a2a" stroke-width="0.14">60</text>
<line x1="33.8" y1="328.9" x2="37.6" y2="328.9" stroke="#000" stroke-width="1.3"/>
<text x="31.8" y="331.99" font-size="8.7" text-anchor="end" fill="#2a2a2a" textLength="8.8" lengthAdjust="spacingAndGlyphs" stroke="#2a2a2a" stroke-width="0.14">80</text>
<line x1="33.8" y1="316.5" x2="37.6" y2="316.5" stroke="#000" stroke-width="1.3"/>
<text x="31.8" y="319.59" font-size="8.7" text-anchor="end" fill="#2a2a2a" textLength="13.2" lengthAdjust="spacingAndGlyphs" stroke="#2a2a2a" stroke-width="0.14">100</text>
<line x1="33.8" y1="378.5" x2="76.6" y2="378.5" stroke="#000" stroke-width="1.3"/>
<line x1="48.45" y1="378.5" x2="48.45" y2="381.7" stroke="#000" stroke-width="1.3"/>
<line x1="65.3" y1="378.5" x2="65.3" y2="381.7" stroke="#000" stroke-width="1.3"/>
<text transform="translate(50.45 388.7) rotate(-45)" font-size="9" text-anchor="end" fill="#c81e3c" textLength="18.5" lengthAdjust="spacingAndGlyphs" stroke="#c81e3c" stroke-width="0.15">N=22</text>
<text transform="translate(67.3 388.7) rotate(-45)" font-size="9" text-anchor="end" fill="#1d5c96" textLength="18.5" lengthAdjust="spacingAndGlyphs" stroke="#1d5c96" stroke-width="0.15">N=19</text>
<rect x="114.9" y="316" width="12.3" height="26.54" fill="#8c8c8c"/>
<path d="M115.57 378.5 V316.68 H126.53 V378.5" stroke="#c81e3c" stroke-width="1.35" fill="none"/>
<line x1="115.57" y1="342.54" x2="126.53" y2="342.54" stroke="#c81e3c" stroke-width="1.35"/>
<rect x="132.2" y="316" width="12.4" height="12.9" fill="#8c8c8c"/>
<path d="M132.88 378.5 V316.68 H143.92 V378.5" stroke="#1d5c96" stroke-width="1.35" fill="none"/>
<line x1="132.88" y1="328.9" x2="143.92" y2="328.9" stroke="#1d5c96" stroke-width="1.35"/>
<line x1="110.7" y1="315.9" x2="110.7" y2="379.1" stroke="#000" stroke-width="1.3"/>
<line x1="106.9" y1="378.5" x2="110.7" y2="378.5" stroke="#000" stroke-width="1.3"/>
<text x="104.9" y="381.59" font-size="8.7" text-anchor="end" fill="#2a2a2a" textLength="4.4" lengthAdjust="spacingAndGlyphs" stroke="#2a2a2a" stroke-width="0.14">0</text>
<line x1="106.9" y1="366.1" x2="110.7" y2="366.1" stroke="#000" stroke-width="1.3"/>
<text x="104.9" y="369.19" font-size="8.7" text-anchor="end" fill="#2a2a2a" textLength="8.8" lengthAdjust="spacingAndGlyphs" stroke="#2a2a2a" stroke-width="0.14">20</text>
<line x1="106.9" y1="353.7" x2="110.7" y2="353.7" stroke="#000" stroke-width="1.3"/>
<text x="104.9" y="356.79" font-size="8.7" text-anchor="end" fill="#2a2a2a" textLength="8.8" lengthAdjust="spacingAndGlyphs" stroke="#2a2a2a" stroke-width="0.14">40</text>
<line x1="106.9" y1="341.3" x2="110.7" y2="341.3" stroke="#000" stroke-width="1.3"/>
<text x="104.9" y="344.39" font-size="8.7" text-anchor="end" fill="#2a2a2a" textLength="8.8" lengthAdjust="spacingAndGlyphs" stroke="#2a2a2a" stroke-width="0.14">60</text>
<line x1="106.9" y1="328.9" x2="110.7" y2="328.9" stroke="#000" stroke-width="1.3"/>
<text x="104.9" y="331.99" font-size="8.7" text-anchor="end" fill="#2a2a2a" textLength="8.8" lengthAdjust="spacingAndGlyphs" stroke="#2a2a2a" stroke-width="0.14">80</text>
<line x1="106.9" y1="316.5" x2="110.7" y2="316.5" stroke="#000" stroke-width="1.3"/>
<text x="104.9" y="319.59" font-size="8.7" text-anchor="end" fill="#2a2a2a" textLength="13.2" lengthAdjust="spacingAndGlyphs" stroke="#2a2a2a" stroke-width="0.14">100</text>
<line x1="106.9" y1="378.5" x2="149.2" y2="378.5" stroke="#000" stroke-width="1.3"/>
<line x1="121.05" y1="378.5" x2="121.05" y2="381.7" stroke="#000" stroke-width="1.3"/>
<line x1="138.4" y1="378.5" x2="138.4" y2="381.7" stroke="#000" stroke-width="1.3"/>
<text transform="translate(123.05 388.7) rotate(-45)" font-size="9" text-anchor="end" fill="#c81e3c" textLength="18.5" lengthAdjust="spacingAndGlyphs" stroke="#c81e3c" stroke-width="0.15">N=21</text>
<text transform="translate(140.4 388.7) rotate(-45)" font-size="9" text-anchor="end" fill="#1d5c96" textLength="18.5" lengthAdjust="spacingAndGlyphs" stroke="#1d5c96" stroke-width="0.15">N=19</text>
<rect x="182" y="316" width="11.9" height="33.98" fill="#8c8c8c"/>
<path d="M182.68 378.5 V316.68 H193.22 V378.5" stroke="#c81e3c" stroke-width="1.35" fill="none"/>
<line x1="182.68" y1="349.98" x2="193.22" y2="349.98" stroke="#c81e3c" stroke-width="1.35"/>
<rect x="198.8" y="316" width="11.9" height="12.9" fill="#8c8c8c"/>
<path d="M199.47 378.5 V316.68 H210.03 V378.5" stroke="#1d5c96" stroke-width="1.35" fill="none"/>
<line x1="199.47" y1="328.9" x2="210.03" y2="328.9" stroke="#1d5c96" stroke-width="1.35"/>
<line x1="177.3" y1="315.9" x2="177.3" y2="379.1" stroke="#000" stroke-width="1.3"/>
<line x1="173.5" y1="378.5" x2="177.3" y2="378.5" stroke="#000" stroke-width="1.3"/>
<text x="171.5" y="381.59" font-size="8.7" text-anchor="end" fill="#2a2a2a" textLength="4.4" lengthAdjust="spacingAndGlyphs" stroke="#2a2a2a" stroke-width="0.14">0</text>
<line x1="173.5" y1="366.1" x2="177.3" y2="366.1" stroke="#000" stroke-width="1.3"/>
<text x="171.5" y="369.19" font-size="8.7" text-anchor="end" fill="#2a2a2a" textLength="8.8" lengthAdjust="spacingAndGlyphs" stroke="#2a2a2a" stroke-width="0.14">20</text>
<line x1="173.5" y1="353.7" x2="177.3" y2="353.7" stroke="#000" stroke-width="1.3"/>
<text x="171.5" y="356.79" font-size="8.7" text-anchor="end" fill="#2a2a2a" textLength="8.8" lengthAdjust="spacingAndGlyphs" stroke="#2a2a2a" stroke-width="0.14">40</text>
<line x1="173.5" y1="341.3" x2="177.3" y2="341.3" stroke="#000" stroke-width="1.3"/>
<text x="171.5" y="344.39" font-size="8.7" text-anchor="end" fill="#2a2a2a" textLength="8.8" lengthAdjust="spacingAndGlyphs" stroke="#2a2a2a" stroke-width="0.14">60</text>
<line x1="173.5" y1="328.9" x2="177.3" y2="328.9" stroke="#000" stroke-width="1.3"/>
<text x="171.5" y="331.99" font-size="8.7" text-anchor="end" fill="#2a2a2a" textLength="8.8" lengthAdjust="spacingAndGlyphs" stroke="#2a2a2a" stroke-width="0.14">80</text>
<line x1="173.5" y1="316.5" x2="177.3" y2="316.5" stroke="#000" stroke-width="1.3"/>
<text x="171.5" y="319.59" font-size="8.7" text-anchor="end" fill="#2a2a2a" textLength="13.2" lengthAdjust="spacingAndGlyphs" stroke="#2a2a2a" stroke-width="0.14">100</text>
<line x1="173.5" y1="378.5" x2="216.1" y2="378.5" stroke="#000" stroke-width="1.3"/>
<line x1="187.95" y1="378.5" x2="187.95" y2="381.7" stroke="#000" stroke-width="1.3"/>
<line x1="204.75" y1="378.5" x2="204.75" y2="381.7" stroke="#000" stroke-width="1.3"/>
<text transform="translate(189.95 388.7) rotate(-45)" font-size="9" text-anchor="end" fill="#c81e3c" textLength="18.5" lengthAdjust="spacingAndGlyphs" stroke="#c81e3c" stroke-width="0.15">N=22</text>
<text transform="translate(206.75 388.7) rotate(-45)" font-size="9" text-anchor="end" fill="#1d5c96" textLength="18.5" lengthAdjust="spacingAndGlyphs" stroke="#1d5c96" stroke-width="0.15">N=19</text>
<rect x="244.3" y="316" width="11.9" height="6.7" fill="#8c8c8c"/>
<path d="M244.97 378.5 V316.68 H255.52 V378.5" stroke="#c81e3c" stroke-width="1.35" fill="none"/>
<line x1="244.97" y1="322.7" x2="255.52" y2="322.7" stroke="#c81e3c" stroke-width="1.35"/>
<path d="M261.78 378.5 V316.68 H272.32 V378.5" stroke="#1d5c96" stroke-width="1.35" fill="none"/>
<line x1="239.6" y1="315.9" x2="239.6" y2="379.1" stroke="#000" stroke-width="1.3"/>
<line x1="235.8" y1="378.5" x2="239.6" y2="378.5" stroke="#000" stroke-width="1.3"/>
<text x="233.8" y="381.59" font-size="8.7" text-anchor="end" fill="#2a2a2a" textLength="4.4" lengthAdjust="spacingAndGlyphs" stroke="#2a2a2a" stroke-width="0.14">0</text>
<line x1="235.8" y1="366.1" x2="239.6" y2="366.1" stroke="#000" stroke-width="1.3"/>
<text x="233.8" y="369.19" font-size="8.7" text-anchor="end" fill="#2a2a2a" textLength="8.8" lengthAdjust="spacingAndGlyphs" stroke="#2a2a2a" stroke-width="0.14">20</text>
<line x1="235.8" y1="353.7" x2="239.6" y2="353.7" stroke="#000" stroke-width="1.3"/>
<text x="233.8" y="356.79" font-size="8.7" text-anchor="end" fill="#2a2a2a" textLength="8.8" lengthAdjust="spacingAndGlyphs" stroke="#2a2a2a" stroke-width="0.14">40</text>
<line x1="235.8" y1="341.3" x2="239.6" y2="341.3" stroke="#000" stroke-width="1.3"/>
<text x="233.8" y="344.39" font-size="8.7" text-anchor="end" fill="#2a2a2a" textLength="8.8" lengthAdjust="spacingAndGlyphs" stroke="#2a2a2a" stroke-width="0.14">60</text>
<line x1="235.8" y1="328.9" x2="239.6" y2="328.9" stroke="#000" stroke-width="1.3"/>
<text x="233.8" y="331.99" font-size="8.7" text-anchor="end" fill="#2a2a2a" textLength="8.8" lengthAdjust="spacingAndGlyphs" stroke="#2a2a2a" stroke-width="0.14">80</text>
<line x1="235.8" y1="316.5" x2="239.6" y2="316.5" stroke="#000" stroke-width="1.3"/>
<text x="233.8" y="319.59" font-size="8.7" text-anchor="end" fill="#2a2a2a" textLength="13.2" lengthAdjust="spacingAndGlyphs" stroke="#2a2a2a" stroke-width="0.14">100</text>
<line x1="235.8" y1="378.5" x2="278.1" y2="378.5" stroke="#000" stroke-width="1.3"/>
<line x1="250.25" y1="378.5" x2="250.25" y2="381.7" stroke="#000" stroke-width="1.3"/>
<line x1="267.05" y1="378.5" x2="267.05" y2="381.7" stroke="#000" stroke-width="1.3"/>
<text transform="translate(252.25 388.7) rotate(-45)" font-size="9" text-anchor="end" fill="#c81e3c" textLength="18.5" lengthAdjust="spacingAndGlyphs" stroke="#c81e3c" stroke-width="0.15">N=15</text>
<text transform="translate(269.05 388.7) rotate(-45)" font-size="9" text-anchor="end" fill="#1d5c96" textLength="18.5" lengthAdjust="spacingAndGlyphs" stroke="#1d5c96" stroke-width="0.15">N=16</text>
<rect x="309.5" y="316" width="12.1" height="24.06" fill="#8c8c8c"/>
<path d="M310.18 378.5 V316.68 H320.92 V378.5" stroke="#c81e3c" stroke-width="1.35" fill="none"/>
<line x1="310.18" y1="340.06" x2="320.92" y2="340.06" stroke="#c81e3c" stroke-width="1.35"/>
<rect x="326.8" y="316" width="12.1" height="23.44" fill="#8c8c8c"/>
<path d="M327.48 378.5 V316.68 H338.22 V378.5" stroke="#1d5c96" stroke-width="1.35" fill="none"/>
<line x1="327.48" y1="339.44" x2="338.22" y2="339.44" stroke="#1d5c96" stroke-width="1.35"/>
<line x1="305.3" y1="315.9" x2="305.3" y2="379.1" stroke="#000" stroke-width="1.3"/>
<line x1="301.5" y1="378.5" x2="305.3" y2="378.5" stroke="#000" stroke-width="1.3"/>
<text x="299.5" y="381.59" font-size="8.7" text-anchor="end" fill="#2a2a2a" textLength="4.4" lengthAdjust="spacingAndGlyphs" stroke="#2a2a2a" stroke-width="0.14">0</text>
<line x1="301.5" y1="366.1" x2="305.3" y2="366.1" stroke="#000" stroke-width="1.3"/>
<text x="299.5" y="369.19" font-size="8.7" text-anchor="end" fill="#2a2a2a" textLength="8.8" lengthAdjust="spacingAndGlyphs" stroke="#2a2a2a" stroke-width="0.14">20</text>
<line x1="301.5" y1="353.7" x2="305.3" y2="353.7" stroke="#000" stroke-width="1.3"/>
<text x="299.5" y="356.79" font-size="8.7" text-anchor="end" fill="#2a2a2a" textLength="8.8" lengthAdjust="spacingAndGlyphs" stroke="#2a2a2a" stroke-width="0.14">40</text>
<line x1="301.5" y1="341.3" x2="305.3" y2="341.3" stroke="#000" stroke-width="1.3"/>
<text x="299.5" y="344.39" font-size="8.7" text-anchor="end" fill="#2a2a2a" textLength="8.8" lengthAdjust="spacingAndGlyphs" stroke="#2a2a2a" stroke-width="0.14">60</text>
<line x1="301.5" y1="328.9" x2="305.3" y2="328.9" stroke="#000" stroke-width="1.3"/>
<text x="299.5" y="331.99" font-size="8.7" text-anchor="end" fill="#2a2a2a" textLength="8.8" lengthAdjust="spacingAndGlyphs" stroke="#2a2a2a" stroke-width="0.14">80</text>
<line x1="301.5" y1="316.5" x2="305.3" y2="316.5" stroke="#000" stroke-width="1.3"/>
<text x="299.5" y="319.59" font-size="8.7" text-anchor="end" fill="#2a2a2a" textLength="13.2" lengthAdjust="spacingAndGlyphs" stroke="#2a2a2a" stroke-width="0.14">100</text>
<line x1="301.5" y1="378.5" x2="343.9" y2="378.5" stroke="#000" stroke-width="1.3"/>
<line x1="315.55" y1="378.5" x2="315.55" y2="381.7" stroke="#000" stroke-width="1.3"/>
<line x1="332.85" y1="378.5" x2="332.85" y2="381.7" stroke="#000" stroke-width="1.3"/>
<text transform="translate(317.55 388.7) rotate(-45)" font-size="9" text-anchor="end" fill="#c81e3c" textLength="18.5" lengthAdjust="spacingAndGlyphs" stroke="#c81e3c" stroke-width="0.15">N=22</text>
<text transform="translate(334.85 388.7) rotate(-45)" font-size="9" text-anchor="end" fill="#1d5c96" textLength="18.5" lengthAdjust="spacingAndGlyphs" stroke="#1d5c96" stroke-width="0.15">N=18</text>
<text transform="translate(13.2 348.2) rotate(-90)" font-size="9" text-anchor="middle" textLength="44" lengthAdjust="spacingAndGlyphs" stroke="#1a1a1a" stroke-width="0.14">% of patients</text>
<text x="393.7" y="270" font-size="7.6" textLength="32.8" lengthAdjust="spacingAndGlyphs" font-style="italic" stroke="#1a1a1a" stroke-width="0.14">P=0.1035</text>
<text x="393.7" y="281.1" font-size="7.6" textLength="64.7" lengthAdjust="spacingAndGlyphs" font-style="italic" stroke="#1a1a1a" stroke-width="0.14">HR high/low=2.593</text>
<line x1="389.6" y1="285.9" x2="389.6" y2="381.4" stroke="#000" stroke-width="1.3"/>
<line x1="385.8" y1="380.8" x2="389.6" y2="380.8" stroke="#000" stroke-width="1.3"/>
<text x="384.6" y="383.89" font-size="8.7" text-anchor="end" fill="#2a2a2a" textLength="4.4" lengthAdjust="spacingAndGlyphs" stroke="#2a2a2a" stroke-width="0.14">0</text>
<line x1="385.8" y1="361.94" x2="389.6" y2="361.94" stroke="#000" stroke-width="1.3"/>
<text x="384.6" y="365.03" font-size="8.7" text-anchor="end" fill="#2a2a2a" textLength="8.8" lengthAdjust="spacingAndGlyphs" stroke="#2a2a2a" stroke-width="0.14">20</text>
<line x1="385.8" y1="343.08" x2="389.6" y2="343.08" stroke="#000" stroke-width="1.3"/>
<text x="384.6" y="346.17" font-size="8.7" text-anchor="end" fill="#2a2a2a" textLength="8.8" lengthAdjust="spacingAndGlyphs" stroke="#2a2a2a" stroke-width="0.14">40</text>
<line x1="385.8" y1="324.22" x2="389.6" y2="324.22" stroke="#000" stroke-width="1.3"/>
<text x="384.6" y="327.31" font-size="8.7" text-anchor="end" fill="#2a2a2a" textLength="8.8" lengthAdjust="spacingAndGlyphs" stroke="#2a2a2a" stroke-width="0.14">60</text>
<line x1="385.8" y1="305.36" x2="389.6" y2="305.36" stroke="#000" stroke-width="1.3"/>
<text x="384.6" y="308.45" font-size="8.7" text-anchor="end" fill="#2a2a2a" textLength="8.8" lengthAdjust="spacingAndGlyphs" stroke="#2a2a2a" stroke-width="0.14">80</text>
<line x1="385.8" y1="286.5" x2="389.6" y2="286.5" stroke="#000" stroke-width="1.3"/>
<text x="384.6" y="289.59" font-size="8.7" text-anchor="end" fill="#2a2a2a" textLength="13.2" lengthAdjust="spacingAndGlyphs" stroke="#2a2a2a" stroke-width="0.14">100</text>
<line x1="385.8" y1="380.8" x2="497.5" y2="380.8" stroke="#000" stroke-width="1.3"/>
<line x1="389.6" y1="380.8" x2="389.6" y2="384" stroke="#000" stroke-width="1.3"/>
<text x="389.6" y="394" font-size="8.7" text-anchor="middle" fill="#222" textLength="4.4" lengthAdjust="spacingAndGlyphs" stroke="#222" stroke-width="0.14">0</text>
<line x1="425.54" y1="380.8" x2="425.54" y2="384" stroke="#000" stroke-width="1.3"/>
<text x="425.54" y="394" font-size="8.7" text-anchor="middle" fill="#222" textLength="4.4" lengthAdjust="spacingAndGlyphs" stroke="#222" stroke-width="0.14">2</text>
<line x1="461.48" y1="380.8" x2="461.48" y2="384" stroke="#000" stroke-width="1.3"/>
<text x="461.48" y="394" font-size="8.7" text-anchor="middle" fill="#222" textLength="4.4" lengthAdjust="spacingAndGlyphs" stroke="#222" stroke-width="0.14">4</text>
<line x1="497.42" y1="380.8" x2="497.42" y2="384" stroke="#000" stroke-width="1.3"/>
<text x="497.42" y="394" font-size="8.7" text-anchor="middle" fill="#222" textLength="4.4" lengthAdjust="spacingAndGlyphs" stroke="#222" stroke-width="0.14">6</text>
<text x="442.6" y="406" font-size="8.6" text-anchor="middle" textLength="51.3" lengthAdjust="spacingAndGlyphs" stroke="#1a1a1a" stroke-width="0.14">Years to relapse</text>
<text transform="translate(366.7 333.2) rotate(-90)" font-size="8.6" text-anchor="middle" textLength="81.4" lengthAdjust="spacingAndGlyphs" stroke="#1a1a1a" stroke-width="0.14">Relapse-free survival (%)</text>
<path d="M389.6 286.5 H406.9 V290.9 H411.3 V295.0 H416.0 V303.3 H419.7 V307.2 H438.4 V316.0 H442.5 V320.1 H473.8 V330.0 H492.3" stroke="#c81e3c" stroke-width="1.4" fill="none"/>
<path d="M406.9 291.3 H447.5 V296.3 H456.4 V304.0 H488.2" stroke="#1d5c96" stroke-width="1.4" fill="none"/>
<line x1="451.6" y1="318.3" x2="451.6" y2="320.1" stroke="#000" stroke-width="1"/>
<line x1="456.4" y1="318.3" x2="456.4" y2="320.1" stroke="#000" stroke-width="1"/>
<line x1="461.3" y1="318.3" x2="461.3" y2="320.1" stroke="#000" stroke-width="1"/>
<line x1="483.4" y1="328.2" x2="483.4" y2="330" stroke="#000" stroke-width="1"/>
<line x1="487.7" y1="328.2" x2="487.7" y2="330" stroke="#000" stroke-width="1"/>
<line x1="460.8" y1="302.2" x2="460.8" y2="304" stroke="#000" stroke-width="1"/>
<line x1="469.7" y1="302.2" x2="469.7" y2="304" stroke="#000" stroke-width="1"/>
<line x1="483.4" y1="302.2" x2="483.4" y2="304" stroke="#000" stroke-width="1"/>
<line x1="487.5" y1="302.2" x2="487.5" y2="304" stroke="#000" stroke-width="1"/>
<line x1="452" y1="294.5" x2="452" y2="296.3" stroke="#000" stroke-width="1"/>
<rect x="406.2" y="290.2" width="1.4" height="1.4" fill="#000"/>
<rect x="410.6" y="294.3" width="1.4" height="1.4" fill="#000"/>
<rect x="415.3" y="302.6" width="1.4" height="1.4" fill="#000"/>
<rect x="419" y="306.5" width="1.4" height="1.4" fill="#000"/>
<rect x="437.7" y="315.3" width="1.4" height="1.4" fill="#000"/>
<rect x="441.8" y="319.4" width="1.4" height="1.4" fill="#000"/>
<rect x="473.1" y="329.3" width="1.4" height="1.4" fill="#000"/>
<rect x="446.8" y="295.6" width="1.4" height="1.4" fill="#000"/>
<rect x="455.7" y="303.3" width="1.4" height="1.4" fill="#000"/>
<text x="476" y="299.6" font-size="8.4" text-anchor="middle" textLength="19.3" lengthAdjust="spacingAndGlyphs" stroke="#1a1a1a" stroke-width="0.14">N=19</text>
<text x="489.4" y="324.8" font-size="8.4" text-anchor="middle" textLength="19.2" lengthAdjust="spacingAndGlyphs" stroke="#1a1a1a" stroke-width="0.14">N=22</text>
<line x1="396.3" y1="356.8" x2="408.8" y2="356.8" stroke="#c81e3c" stroke-width="1.4"/>
<line x1="402.5" y1="355" x2="402.5" y2="356.8" stroke="#000" stroke-width="1"/>
<text x="412.5" y="359.8" font-size="8.5" fill="#1a1a1a" textLength="88.7" lengthAdjust="spacingAndGlyphs">GM-CSF<tspan font-size="4.68" dy="-2.97">high</tspan><tspan dy="2.97">TNF</tspan><tspan font-size="4.68" dy="-2.97">high</tspan><tspan dy="2.97">IFN-γ</tspan><tspan font-size="4.68" dy="-2.97">high</tspan></text>
<line x1="396.3" y1="370" x2="408.8" y2="370" stroke="#1d5c96" stroke-width="1.4"/>
<line x1="402.5" y1="368.2" x2="402.5" y2="370" stroke="#000" stroke-width="1"/>
<text x="412.5" y="372.8" font-size="8.5" fill="#1a1a1a" textLength="82.5" lengthAdjust="spacingAndGlyphs">GM-CSF<tspan font-size="4.68" dy="-2.97">low</tspan><tspan dy="2.97">TNF</tspan><tspan font-size="4.68" dy="-2.97">low</tspan><tspan dy="2.97">IFN-γ</tspan><tspan font-size="4.68" dy="-2.97">low</tspan></text>
<text x="45" y="469.3" font-size="7.6" textLength="32.3" lengthAdjust="spacingAndGlyphs" font-style="italic" stroke="#1a1a1a" stroke-width="0.14">P=0.0079</text>
<text x="45" y="479.9" font-size="7.6" textLength="63.5" lengthAdjust="spacingAndGlyphs" font-style="italic" stroke="#1a1a1a" stroke-width="0.14">HR high/low=9.555</text>
<line x1="41.2" y1="488.4" x2="41.2" y2="580.1" stroke="#000" stroke-width="1.3"/>
<line x1="37.4" y1="579.5" x2="41.2" y2="579.5" stroke="#000" stroke-width="1.3"/>
<text x="35.6" y="582.59" font-size="8.7" text-anchor="end" fill="#2a2a2a" textLength="4.4" lengthAdjust="spacingAndGlyphs" stroke="#2a2a2a" stroke-width="0.14">0</text>
<line x1="37.4" y1="561.4" x2="41.2" y2="561.4" stroke="#000" stroke-width="1.3"/>
<text x="35.6" y="564.49" font-size="8.7" text-anchor="end" fill="#2a2a2a" textLength="8.8" lengthAdjust="spacingAndGlyphs" stroke="#2a2a2a" stroke-width="0.14">20</text>
<line x1="37.4" y1="543.3" x2="41.2" y2="543.3" stroke="#000" stroke-width="1.3"/>
<text x="35.6" y="546.39" font-size="8.7" text-anchor="end" fill="#2a2a2a" textLength="8.8" lengthAdjust="spacingAndGlyphs" stroke="#2a2a2a" stroke-width="0.14">40</text>
<line x1="37.4" y1="525.2" x2="41.2" y2="525.2" stroke="#000" stroke-width="1.3"/>
<text x="35.6" y="528.29" font-size="8.7" text-anchor="end" fill="#2a2a2a" textLength="8.8" lengthAdjust="spacingAndGlyphs" stroke="#2a2a2a" stroke-width="0.14">60</text>
<line x1="37.4" y1="507.1" x2="41.2" y2="507.1" stroke="#000" stroke-width="1.3"/>
<text x="35.6" y="510.19" font-size="8.7" text-anchor="end" fill="#2a2a2a" textLength="8.8" lengthAdjust="spacingAndGlyphs" stroke="#2a2a2a" stroke-width="0.14">80</text>
<line x1="37.4" y1="489" x2="41.2" y2="489" stroke="#000" stroke-width="1.3"/>
<text x="35.6" y="492.09" font-size="8.7" text-anchor="end" fill="#2a2a2a" textLength="13.2" lengthAdjust="spacingAndGlyphs" stroke="#2a2a2a" stroke-width="0.14">100</text>
<line x1="37.4" y1="579.5" x2="169.3" y2="579.5" stroke="#000" stroke-width="1.3"/>
<line x1="41.2" y1="579.5" x2="41.2" y2="582.7" stroke="#000" stroke-width="1.3"/>
<text x="41.2" y="592.4" font-size="8.7" text-anchor="middle" fill="#222" textLength="4.4" lengthAdjust="spacingAndGlyphs" stroke="#222" stroke-width="0.14">0</text>
<line x1="66.74" y1="579.5" x2="66.74" y2="582.7" stroke="#000" stroke-width="1.3"/>
<text x="66.74" y="592.4" font-size="8.7" text-anchor="middle" fill="#222" textLength="4.4" lengthAdjust="spacingAndGlyphs" stroke="#222" stroke-width="0.14">2</text>
<line x1="92.28" y1="579.5" x2="92.28" y2="582.7" stroke="#000" stroke-width="1.3"/>
<text x="92.28" y="592.4" font-size="8.7" text-anchor="middle" fill="#222" textLength="4.4" lengthAdjust="spacingAndGlyphs" stroke="#222" stroke-width="0.14">4</text>
<line x1="117.82" y1="579.5" x2="117.82" y2="582.7" stroke="#000" stroke-width="1.3"/>
<text x="117.82" y="592.4" font-size="8.7" text-anchor="middle" fill="#222" textLength="4.4" lengthAdjust="spacingAndGlyphs" stroke="#222" stroke-width="0.14">6</text>
<line x1="143.36" y1="579.5" x2="143.36" y2="582.7" stroke="#000" stroke-width="1.3"/>
<text x="143.36" y="592.4" font-size="8.7" text-anchor="middle" fill="#222" textLength="4.4" lengthAdjust="spacingAndGlyphs" stroke="#222" stroke-width="0.14">8</text>
<line x1="168.9" y1="579.5" x2="168.9" y2="582.7" stroke="#000" stroke-width="1.3"/>
<text x="168.9" y="592.4" font-size="8.7" text-anchor="middle" fill="#222" textLength="8.8" lengthAdjust="spacingAndGlyphs" stroke="#222" stroke-width="0.14">10</text>
<text x="107.1" y="606" font-size="8.6" text-anchor="middle" textLength="46.2" lengthAdjust="spacingAndGlyphs" stroke="#1a1a1a" stroke-width="0.14">Years to death</text>
<text transform="translate(14.7 532.2) rotate(-90)" font-size="8.6" text-anchor="middle" textLength="64.3" lengthAdjust="spacingAndGlyphs" stroke="#1a1a1a" stroke-width="0.14">Overall survival (%)</text>
<path d="M43.65 489 V499.6 H50.6 V511.2 H55.5 V522.7 H61.2 V534.3 H66.5 V545.4 H71.2 V557.2 H101.5" stroke="#c81e3c" stroke-width="1.4" fill="none"/>
<path d="M41.2 489 H101.5 V501.5 H155" stroke="#1d5c96" stroke-width="1.4" fill="none"/>
<line x1="74.6" y1="555.4" x2="74.6" y2="557.2" stroke="#000" stroke-width="1"/>
<line x1="103.8" y1="499.7" x2="103.8" y2="501.5" stroke="#000" stroke-width="1"/>
<line x1="115.1" y1="499.7" x2="115.1" y2="501.5" stroke="#000" stroke-width="1"/>
<line x1="129.2" y1="499.7" x2="129.2" y2="501.5" stroke="#000" stroke-width="1"/>
<line x1="130.8" y1="499.7" x2="130.8" y2="501.5" stroke="#000" stroke-width="1"/>
<line x1="154.5" y1="499.7" x2="154.5" y2="501.5" stroke="#000" stroke-width="1"/>
<rect x="42.95" y="498.9" width="1.4" height="1.4" fill="#000"/>
<rect x="49.9" y="510.5" width="1.4" height="1.4" fill="#000"/>
<rect x="54.8" y="522" width="1.4" height="1.4" fill="#000"/>
<rect x="60.5" y="533.6" width="1.4" height="1.4" fill="#000"/>
<rect x="65.8" y="544.7" width="1.4" height="1.4" fill="#000"/>
<rect x="70.5" y="556.5" width="1.4" height="1.4" fill="#000"/>
<rect x="100.8" y="500.8" width="1.4" height="1.4" fill="#000"/>
<text x="127.5" y="497.8" font-size="8.4" text-anchor="middle" textLength="14.3" lengthAdjust="spacingAndGlyphs" stroke="#1a1a1a" stroke-width="0.14">N=8</text>
<text x="85.2" y="552.8" font-size="8.4" text-anchor="middle" textLength="14.1" lengthAdjust="spacingAndGlyphs" stroke="#1a1a1a" stroke-width="0.14">N=7</text>
<line x1="86.9" y1="512.8" x2="98.9" y2="512.8" stroke="#1d5c96" stroke-width="1.4"/>
<line x1="93.2" y1="511" x2="93.2" y2="512.8" stroke="#000" stroke-width="1"/>
<line x1="86.5" y1="567" x2="99.2" y2="567" stroke="#c81e3c" stroke-width="1.4"/>
<line x1="93.1" y1="565.2" x2="93.1" y2="567" stroke="#000" stroke-width="1"/>
<text x="102.4" y="514.9" font-size="7.9" textLength="95.8" lengthAdjust="spacingAndGlyphs" stroke="#1a1a1a" stroke-width="0.14">Low GM-CSF<tspan font-size="5.2" dy="-3">+</tspan><tspan dy="3">TNF</tspan><tspan font-size="5.2" dy="-3">+</tspan><tspan dy="3">IFN-γ</tspan><tspan font-size="5.2" dy="-3">+</tspan><tspan dy="3"> NK</tspan></text>
<text x="101.9" y="569.4" font-size="7.9" textLength="97.6" lengthAdjust="spacingAndGlyphs" stroke="#1a1a1a" stroke-width="0.14">High GM-CSF<tspan font-size="5.2" dy="-3">+</tspan><tspan dy="3">TNF</tspan><tspan font-size="5.2" dy="-3">+</tspan><tspan dy="3">IFN-γ</tspan><tspan font-size="5.2" dy="-3">+</tspan><tspan dy="3"> NK</tspan></text>
<rect x="233.3" y="478" width="12.5" height="8.5" fill="#8c8c8c"/>
<rect x="233.9" y="491.9" width="11.3" height="8.4" fill="#fff" stroke="#111" stroke-width="1.2"/>
<text x="249.2" y="484.8" font-size="7.6" textLength="48.5" lengthAdjust="spacingAndGlyphs" stroke="#1a1a1a" stroke-width="0.14">WBC&gt;100,000</text>
<text x="249.2" y="498.7" font-size="7.6" textLength="48.5" lengthAdjust="spacingAndGlyphs" stroke="#1a1a1a" stroke-width="0.14">WBC&lt;100,000</text>
<rect x="346.2" y="478" width="12.6" height="8.5" fill="#8c8c8c"/>
<rect x="346.8" y="491.9" width="11.4" height="8.4" fill="#fff" stroke="#111" stroke-width="1.2"/>
<text x="360.9" y="484.8" font-size="7.6" textLength="19.9" lengthAdjust="spacingAndGlyphs" stroke="#1a1a1a" stroke-width="0.14">Death</text>
<text x="360.9" y="498.7" font-size="7.6" textLength="25.9" lengthAdjust="spacingAndGlyphs" stroke="#1a1a1a" stroke-width="0.14">Survival</text>
<rect x="263.4" y="515" width="11.9" height="48.12" fill="#8c8c8c"/>
<path d="M264.08 577.35 V515.67 H274.62 V577.35" stroke="#c81e3c" stroke-width="1.35" fill="none"/>
<line x1="264.08" y1="563.12" x2="274.62" y2="563.12" stroke="#c81e3c" stroke-width="1.35"/>
<rect x="280.1" y="515" width="12" height="27.1" fill="#8c8c8c"/>
<path d="M280.78 577.35 V515.67 H291.42 V577.35" stroke="#1d5c96" stroke-width="1.35" fill="none"/>
<line x1="280.78" y1="542.1" x2="291.42" y2="542.1" stroke="#1d5c96" stroke-width="1.35"/>
<line x1="258.8" y1="514.9" x2="258.8" y2="577.95" stroke="#000" stroke-width="1.3"/>
<line x1="255" y1="577.35" x2="258.8" y2="577.35" stroke="#000" stroke-width="1.3"/>
<text x="253.6" y="580.44" font-size="8.7" text-anchor="end" fill="#2a2a2a" textLength="4.4" lengthAdjust="spacingAndGlyphs" stroke="#2a2a2a" stroke-width="0.14">0</text>
<line x1="255" y1="564.98" x2="258.8" y2="564.98" stroke="#000" stroke-width="1.3"/>
<text x="253.6" y="568.07" font-size="8.7" text-anchor="end" fill="#2a2a2a" textLength="8.8" lengthAdjust="spacingAndGlyphs" stroke="#2a2a2a" stroke-width="0.14">20</text>
<line x1="255" y1="552.61" x2="258.8" y2="552.61" stroke="#000" stroke-width="1.3"/>
<text x="253.6" y="555.7" font-size="8.7" text-anchor="end" fill="#2a2a2a" textLength="8.8" lengthAdjust="spacingAndGlyphs" stroke="#2a2a2a" stroke-width="0.14">40</text>
<line x1="255" y1="540.24" x2="258.8" y2="540.24" stroke="#000" stroke-width="1.3"/>
<text x="253.6" y="543.33" font-size="8.7" text-anchor="end" fill="#2a2a2a" textLength="8.8" lengthAdjust="spacingAndGlyphs" stroke="#2a2a2a" stroke-width="0.14">60</text>
<line x1="255" y1="527.87" x2="258.8" y2="527.87" stroke="#000" stroke-width="1.3"/>
<text x="253.6" y="530.96" font-size="8.7" text-anchor="end" fill="#2a2a2a" textLength="8.8" lengthAdjust="spacingAndGlyphs" stroke="#2a2a2a" stroke-width="0.14">80</text>
<line x1="255" y1="515.5" x2="258.8" y2="515.5" stroke="#000" stroke-width="1.3"/>
<text x="253.6" y="518.59" font-size="8.7" text-anchor="end" fill="#2a2a2a" textLength="13.2" lengthAdjust="spacingAndGlyphs" stroke="#2a2a2a" stroke-width="0.14">100</text>
<line x1="255" y1="577.35" x2="297.9" y2="577.35" stroke="#000" stroke-width="1.3"/>
<line x1="269.35" y1="577.35" x2="269.35" y2="580.55" stroke="#000" stroke-width="1.3"/>
<line x1="286.1" y1="577.35" x2="286.1" y2="580.55" stroke="#000" stroke-width="1.3"/>
<text transform="translate(271.35 587.55) rotate(-45)" font-size="9" text-anchor="end" fill="#c81e3c" textLength="14.5" lengthAdjust="spacingAndGlyphs" stroke="#c81e3c" stroke-width="0.15">N=8</text>
<text transform="translate(288.1 587.55) rotate(-45)" font-size="9" text-anchor="end" fill="#1d5c96" textLength="14.5" lengthAdjust="spacingAndGlyphs" stroke="#1d5c96" stroke-width="0.15">N=7</text>
<text transform="translate(234.6 546.4) rotate(-90)" font-size="9" text-anchor="middle" textLength="43.2" lengthAdjust="spacingAndGlyphs" stroke="#1a1a1a" stroke-width="0.14">% of patients</text>
<rect x="361.8" y="515" width="11.6" height="48.12" fill="#8c8c8c"/>
<path d="M362.48 577.35 V515.67 H372.72 V577.35" stroke="#c81e3c" stroke-width="1.35" fill="none"/>
<line x1="362.48" y1="563.12" x2="372.72" y2="563.12" stroke="#c81e3c" stroke-width="1.35"/>
<rect x="378.5" y="515" width="12" height="27.1" fill="#8c8c8c"/>
<path d="M379.18 577.35 V515.67 H389.82 V577.35" stroke="#1d5c96" stroke-width="1.35" fill="none"/>
<line x1="379.18" y1="542.1" x2="389.82" y2="542.1" stroke="#1d5c96" stroke-width="1.35"/>
<line x1="356.7" y1="514.9" x2="356.7" y2="577.95" stroke="#000" stroke-width="1.3"/>
<line x1="352.9" y1="577.35" x2="356.7" y2="577.35" stroke="#000" stroke-width="1.3"/>
<text x="351.5" y="580.44" font-size="8.7" text-anchor="end" fill="#2a2a2a" textLength="4.4" lengthAdjust="spacingAndGlyphs" stroke="#2a2a2a" stroke-width="0.14">0</text>
<line x1="352.9" y1="564.98" x2="356.7" y2="564.98" stroke="#000" stroke-width="1.3"/>
<text x="351.5" y="568.07" font-size="8.7" text-anchor="end" fill="#2a2a2a" textLength="8.8" lengthAdjust="spacingAndGlyphs" stroke="#2a2a2a" stroke-width="0.14">20</text>
<line x1="352.9" y1="552.61" x2="356.7" y2="552.61" stroke="#000" stroke-width="1.3"/>
<text x="351.5" y="555.7" font-size="8.7" text-anchor="end" fill="#2a2a2a" textLength="8.8" lengthAdjust="spacingAndGlyphs" stroke="#2a2a2a" stroke-width="0.14">40</text>
<line x1="352.9" y1="540.24" x2="356.7" y2="540.24" stroke="#000" stroke-width="1.3"/>
<text x="351.5" y="543.33" font-size="8.7" text-anchor="end" fill="#2a2a2a" textLength="8.8" lengthAdjust="spacingAndGlyphs" stroke="#2a2a2a" stroke-width="0.14">60</text>
<line x1="352.9" y1="527.87" x2="356.7" y2="527.87" stroke="#000" stroke-width="1.3"/>
<text x="351.5" y="530.96" font-size="8.7" text-anchor="end" fill="#2a2a2a" textLength="8.8" lengthAdjust="spacingAndGlyphs" stroke="#2a2a2a" stroke-width="0.14">80</text>
<line x1="352.9" y1="515.5" x2="356.7" y2="515.5" stroke="#000" stroke-width="1.3"/>
<text x="351.5" y="518.59" font-size="8.7" text-anchor="end" fill="#2a2a2a" textLength="13.2" lengthAdjust="spacingAndGlyphs" stroke="#2a2a2a" stroke-width="0.14">100</text>
<line x1="352.9" y1="577.35" x2="396" y2="577.35" stroke="#000" stroke-width="1.3"/>
<line x1="367.6" y1="577.35" x2="367.6" y2="580.55" stroke="#000" stroke-width="1.3"/>
<line x1="384.5" y1="577.35" x2="384.5" y2="580.55" stroke="#000" stroke-width="1.3"/>
<text transform="translate(369.6 587.55) rotate(-45)" font-size="9" text-anchor="end" fill="#c81e3c" textLength="14.5" lengthAdjust="spacingAndGlyphs" stroke="#c81e3c" stroke-width="0.15">N=8</text>
<text transform="translate(386.5 587.55) rotate(-45)" font-size="9" text-anchor="end" fill="#1d5c96" textLength="14.5" lengthAdjust="spacingAndGlyphs" stroke="#1d5c96" stroke-width="0.15">N=7</text>
<text transform="translate(332.5 546.4) rotate(-90)" font-size="9" text-anchor="middle" textLength="43.2" lengthAdjust="spacingAndGlyphs" stroke="#1a1a1a" stroke-width="0.14">% of patients</text>
</svg>
</body></html>
